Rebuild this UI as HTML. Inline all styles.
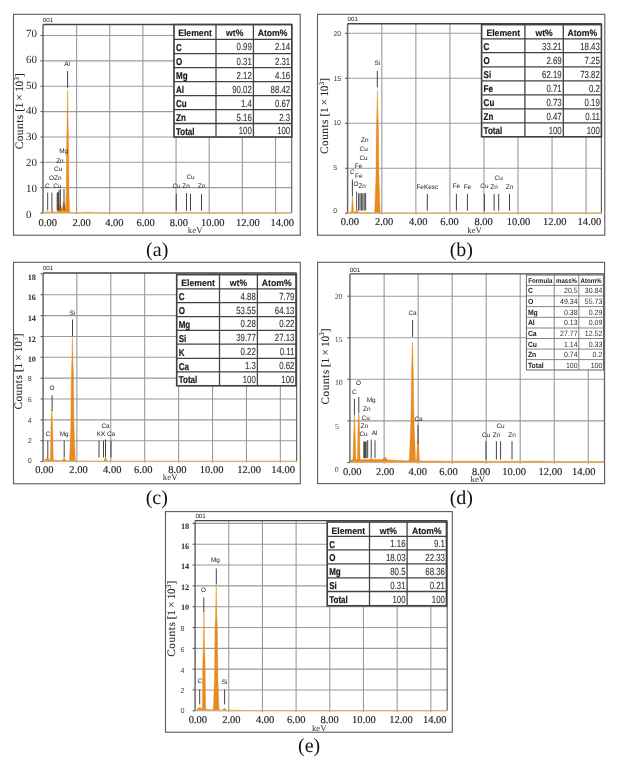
<!DOCTYPE html><html><head><meta charset="utf-8"><style>html,body{margin:0;padding:0;background:#fff;}svg{display:block;filter:blur(0.35px);}</style></head><body><svg width="617" height="764" viewBox="0 0 617 764" text-rendering="geometricPrecision">
<rect x="0" y="0" width="617" height="764" fill="#fff"/>
<rect x="13.50" y="14.30" width="286.70" height="220.90" stroke="#5a5a5a" stroke-width="1.1" fill="none"/>
<line x1="76.60" y1="24.50" x2="76.60" y2="214.30" stroke="#9a9a9a" stroke-width="1.1"/>
<line x1="109.75" y1="24.50" x2="109.75" y2="214.30" stroke="#9a9a9a" stroke-width="1.1"/>
<line x1="142.90" y1="24.50" x2="142.90" y2="214.30" stroke="#9a9a9a" stroke-width="1.1"/>
<line x1="176.05" y1="24.50" x2="176.05" y2="214.30" stroke="#9a9a9a" stroke-width="1.1"/>
<line x1="209.20" y1="24.50" x2="209.20" y2="214.30" stroke="#9a9a9a" stroke-width="1.1"/>
<line x1="242.35" y1="24.50" x2="242.35" y2="214.30" stroke="#9a9a9a" stroke-width="1.1"/>
<line x1="275.50" y1="24.50" x2="275.50" y2="214.30" stroke="#9a9a9a" stroke-width="1.1"/>
<line x1="43.00" y1="187.65" x2="291.70" y2="187.65" stroke="#9a9a9a" stroke-width="1.1"/>
<line x1="40.50" y1="187.65" x2="43.00" y2="187.65" stroke="#444" stroke-width="1.0"/>
<line x1="43.00" y1="162.30" x2="291.70" y2="162.30" stroke="#9a9a9a" stroke-width="1.1"/>
<line x1="40.50" y1="162.30" x2="43.00" y2="162.30" stroke="#444" stroke-width="1.0"/>
<line x1="43.00" y1="136.95" x2="291.70" y2="136.95" stroke="#9a9a9a" stroke-width="1.1"/>
<line x1="40.50" y1="136.95" x2="43.00" y2="136.95" stroke="#444" stroke-width="1.0"/>
<line x1="43.00" y1="111.60" x2="291.70" y2="111.60" stroke="#9a9a9a" stroke-width="1.1"/>
<line x1="40.50" y1="111.60" x2="43.00" y2="111.60" stroke="#444" stroke-width="1.0"/>
<line x1="43.00" y1="86.25" x2="291.70" y2="86.25" stroke="#9a9a9a" stroke-width="1.1"/>
<line x1="40.50" y1="86.25" x2="43.00" y2="86.25" stroke="#444" stroke-width="1.0"/>
<line x1="43.00" y1="60.90" x2="291.70" y2="60.90" stroke="#9a9a9a" stroke-width="1.1"/>
<line x1="40.50" y1="60.90" x2="43.00" y2="60.90" stroke="#444" stroke-width="1.0"/>
<line x1="43.00" y1="35.55" x2="291.70" y2="35.55" stroke="#9a9a9a" stroke-width="1.1"/>
<line x1="40.50" y1="35.55" x2="43.00" y2="35.55" stroke="#444" stroke-width="1.0"/>
<line x1="40.50" y1="213.10" x2="43.00" y2="213.10" stroke="#444" stroke-width="1.0"/>
<path d="M43.5,213.1 L43.5,212.8 L44.2,212.8 L44.9,212.8 L45.6,211.8 L46.2,211.8 L47.0,211.8 L47.7,211.9 L48.4,211.9 L49.1,212.0 L49.8,212.0 L50.5,212.0 L51.2,211.4 L51.9,210.3 L52.6,210.4 L53.2,211.7 L54.0,212.1 L54.6,212.2 L55.4,212.3 L56.0,212.3 L56.8,212.1 L57.5,211.1 L58.1,208.8 L58.2,208.4 L58.3,208.1 L58.4,207.7 L58.5,207.4 L58.6,207.1 L58.8,206.8 L58.8,206.6 L58.9,206.3 L59.0,206.1 L59.1,205.9 L59.2,205.7 L59.3,205.5 L59.4,205.3 L59.5,205.0 L59.6,204.8 L59.7,204.6 L59.8,204.5 L59.9,204.4 L60.0,204.3 L60.1,204.3 L60.2,204.4 L60.3,204.5 L60.4,204.8 L60.5,205.0 L60.6,205.4 L60.7,205.7 L60.8,206.1 L60.9,206.5 L61.0,206.8 L61.1,207.1 L61.2,207.4 L61.3,207.7 L61.4,207.9 L61.5,208.1 L61.6,208.2 L61.7,208.3 L61.8,208.4 L61.9,208.4 L62.0,208.4 L62.1,208.3 L62.2,208.2 L62.3,207.9 L62.4,207.6 L62.5,207.3 L62.6,206.8 L62.7,206.3 L62.8,205.7 L62.9,205.1 L63.0,204.5 L63.1,204.0 L63.2,203.4 L63.3,203.0 L63.4,202.6 L63.5,202.4 L63.6,202.2 L63.7,202.2 L63.8,202.2 L63.9,202.3 L64.0,202.5 L64.1,202.7 L64.2,202.9 L64.3,203.1 L64.4,203.4 L64.5,203.7 L64.6,204.0 L64.7,204.4 L64.8,204.9 L64.9,205.4 L65.0,205.9 L65.1,206.5 L65.2,207.1 L65.3,207.6 L65.4,207.7 L65.5,207.3 L65.6,206.2 L65.7,204.5 L65.8,202.2 L65.9,199.7 L66.0,197.2 L66.1,194.8 L66.2,191.3 L66.3,183.6 L66.4,170.8 L66.5,157.1 L66.6,146.3 L66.7,139.1 L66.8,134.2 L66.9,129.8 L67.0,124.9 L67.1,118.7 L67.2,111.4 L67.3,103.6 L67.4,96.6 L67.5,91.7 L67.6,89.9 L67.7,91.7 L67.8,96.7 L67.9,103.7 L68.0,111.5 L68.1,118.8 L68.2,125.0 L68.3,129.9 L68.4,134.2 L68.5,139.2 L68.6,146.5 L68.7,157.3 L68.8,171.1 L68.9,183.9 L69.0,191.8 L69.1,195.4 L69.2,198.1 L69.3,200.9 L69.4,203.9 L69.5,206.6 L69.6,209.0 L69.7,210.7 L69.8,211.8 L69.9,212.3 L70.0,212.5 L70.1,212.6 L70.2,212.6 L70.3,212.6 L70.4,212.6 L70.5,212.6 L70.6,212.6 L70.7,212.6 L70.8,212.6 L70.9,212.6 L71.0,212.6 L71.1,212.6 L71.2,212.6 L71.3,212.6 L71.4,212.6 L71.5,212.6 L71.6,212.6 L72.3,212.7 L73.0,212.7 L73.7,212.7 L74.4,212.7 L75.1,212.7 L75.8,212.7 L76.5,212.7 L77.2,212.7 L77.9,212.7 L78.6,212.7 L79.3,212.7 L80.0,212.7 L80.7,212.7 L81.4,212.7 L82.1,212.7 L82.8,212.7 L83.5,212.7 L84.2,212.6 L84.9,212.5 L85.6,212.3 L86.3,212.1 L87.0,212.2 L87.7,212.3 L88.4,212.4 L89.1,212.3 L89.8,212.1 L90.5,212.0 L91.2,212.1 L91.9,212.3 L92.6,212.6 L93.3,212.7 L94.0,212.8 L94.7,212.8 L95.4,212.8 L96.1,212.8 L96.8,212.8 L97.5,212.8 L98.2,212.8 L98.9,212.8 L99.6,212.8 L100.3,212.8 L101.0,212.8 L101.7,212.8 L102.4,212.8 L103.1,212.8 L103.8,212.8 L104.5,212.8 L105.2,212.8 L105.9,212.8 L106.6,212.8 L107.3,212.8 L108.0,212.8 L108.7,212.8 L109.4,212.8 L110.1,212.8 L110.8,212.8 L111.5,212.8 L112.2,212.8 L112.9,212.8 L113.6,212.8 L114.3,212.8 L115.0,212.8 L115.7,212.8 L116.4,212.8 L117.1,212.8 L117.8,212.8 L118.5,212.8 L119.2,212.8 L119.9,212.8 L120.6,212.8 L121.3,212.8 L122.0,212.8 L122.7,212.8 L123.4,212.8 L124.1,212.8 L124.8,212.8 L125.5,212.8 L126.2,212.8 L126.9,212.8 L127.6,212.8 L128.3,212.8 L129.0,212.8 L129.7,212.8 L130.4,212.8 L131.1,212.8 L131.8,212.8 L132.5,212.8 L133.2,212.8 L133.9,212.8 L134.6,212.8 L135.3,212.8 L136.0,212.8 L136.7,212.8 L137.4,212.8 L138.1,212.8 L138.8,212.8 L139.5,212.8 L140.2,212.8 L140.9,212.8 L141.6,212.8 L142.3,212.8 L143.0,212.8 L143.7,212.8 L144.4,212.8 L145.1,212.8 L145.8,212.8 L146.5,212.8 L147.2,212.8 L147.9,212.8 L148.6,212.8 L149.3,212.8 L150.0,212.8 L150.7,212.8 L151.4,212.8 L152.1,212.8 L152.8,212.8 L153.5,212.8 L154.2,212.8 L154.9,212.8 L155.6,212.8 L156.3,212.8 L157.0,212.8 L157.7,212.8 L158.4,212.8 L159.1,212.8 L159.8,212.8 L160.5,212.8 L161.2,212.8 L161.9,212.8 L162.6,212.8 L163.3,212.8 L164.0,212.8 L164.7,212.8 L165.4,212.8 L166.1,212.8 L166.8,212.8 L167.5,212.8 L168.2,212.8 L168.9,212.8 L169.6,212.8 L170.3,212.8 L171.0,212.8 L171.7,212.8 L172.4,212.8 L173.1,212.8 L173.8,212.8 L174.5,212.8 L175.2,212.8 L175.9,212.8 L176.6,212.8 L177.3,212.8 L178.0,212.8 L178.7,212.8 L179.4,212.8 L180.1,212.8 L180.8,212.8 L181.5,212.8 L182.2,212.8 L182.9,212.8 L183.6,212.8 L184.3,212.8 L185.0,212.8 L185.7,212.8 L186.4,212.8 L187.1,212.8 L187.8,212.8 L188.5,212.8 L189.2,212.8 L189.9,212.8 L190.6,212.8 L191.3,212.8 L192.0,212.8 L192.7,212.8 L193.4,212.8 L194.1,212.8 L194.8,212.8 L195.5,212.8 L196.2,212.8 L196.9,212.8 L197.6,212.8 L198.3,212.8 L199.0,212.8 L199.7,212.8 L200.4,212.8 L201.1,212.8 L201.8,212.8 L202.5,212.8 L203.2,212.8 L203.9,212.8 L204.6,212.8 L205.3,212.8 L206.0,212.8 L206.7,212.8 L207.4,212.8 L208.1,212.8 L208.8,212.8 L209.5,212.8 L210.2,212.8 L210.9,212.8 L211.6,212.8 L212.3,212.8 L213.0,212.8 L213.7,212.8 L214.4,212.8 L215.1,212.8 L215.8,212.8 L216.5,212.8 L217.2,212.8 L217.9,212.8 L218.6,212.8 L219.3,212.8 L220.0,212.8 L220.7,212.8 L221.4,212.8 L222.1,212.8 L222.8,212.8 L223.5,212.8 L224.2,212.8 L224.9,212.8 L225.6,212.8 L226.3,212.8 L227.0,212.8 L227.7,212.8 L228.4,212.8 L229.1,212.8 L229.8,212.8 L230.5,212.8 L231.2,212.8 L231.9,212.8 L232.6,212.8 L233.3,212.8 L234.0,212.8 L234.7,212.8 L235.4,212.8 L236.1,212.8 L236.8,212.8 L237.5,212.8 L238.2,212.8 L238.9,212.8 L239.6,212.8 L240.3,212.8 L241.0,212.8 L241.7,212.8 L242.4,212.8 L243.1,212.8 L243.8,212.8 L244.5,212.8 L245.2,212.8 L245.9,212.8 L246.6,212.8 L247.3,212.8 L248.0,212.8 L248.7,212.8 L249.4,212.8 L250.1,212.8 L250.8,212.8 L251.5,212.8 L252.2,212.8 L252.9,212.8 L253.6,212.8 L254.3,212.8 L255.0,212.8 L255.7,212.8 L256.4,212.8 L257.1,212.8 L257.8,212.8 L258.5,212.8 L259.2,212.8 L259.9,212.8 L260.6,212.8 L261.3,212.8 L262.0,212.8 L262.7,212.8 L263.4,212.8 L264.1,212.8 L264.8,212.8 L265.5,212.8 L266.2,212.8 L266.9,212.8 L267.6,212.8 L268.3,212.8 L269.0,212.8 L269.7,212.8 L270.4,212.8 L271.1,212.8 L271.8,212.8 L272.5,212.8 L273.2,212.8 L273.9,212.8 L274.6,212.8 L275.3,212.8 L276.0,212.8 L276.7,212.8 L277.4,212.8 L278.1,212.8 L278.8,212.8 L279.5,212.8 L280.2,212.8 L280.9,212.8 L281.6,212.8 L282.3,212.8 L283.0,212.8 L283.7,212.8 L284.4,212.8 L285.1,212.8 L285.8,212.8 L286.5,212.8 L287.2,212.8 L287.9,212.8 L288.6,212.8 L289.3,212.8 L290.0,212.8 L290.7,212.8 L291.4,212.8 L291.4,213.1 Z" fill="#E98A1F" stroke="#E98A1F" stroke-width="0.4"/>
<line x1="47.70" y1="192.60" x2="47.70" y2="210.40" stroke="#444" stroke-width="1.0"/>
<line x1="51.90" y1="192.60" x2="51.90" y2="210.40" stroke="#444" stroke-width="1.0"/>
<line x1="57.20" y1="192.60" x2="57.20" y2="210.40" stroke="#444" stroke-width="1.0"/>
<line x1="57.80" y1="192.60" x2="57.80" y2="210.40" stroke="#444" stroke-width="1.0"/>
<line x1="58.40" y1="192.00" x2="58.40" y2="210.40" stroke="#444" stroke-width="1.0"/>
<line x1="59.00" y1="190.00" x2="59.00" y2="210.40" stroke="#444" stroke-width="1.0"/>
<line x1="60.40" y1="189.00" x2="60.40" y2="210.40" stroke="#444" stroke-width="1.0"/>
<line x1="64.00" y1="189.00" x2="64.00" y2="210.40" stroke="#444" stroke-width="1.0"/>
<line x1="67.60" y1="71.00" x2="67.60" y2="87.80" stroke="#444" stroke-width="1.0"/>
<line x1="176.30" y1="193.80" x2="176.30" y2="210.80" stroke="#444" stroke-width="1.0"/>
<line x1="186.50" y1="193.00" x2="186.50" y2="210.80" stroke="#444" stroke-width="1.0"/>
<line x1="190.50" y1="193.80" x2="190.50" y2="210.80" stroke="#444" stroke-width="1.0"/>
<line x1="201.50" y1="194.00" x2="201.50" y2="210.80" stroke="#444" stroke-width="1.0"/>
<text x="67.20" y="66.00" font-family='"Liberation Sans", sans-serif' font-size="6.4" fill="#222" text-anchor="middle" >Al</text>
<text x="63.70" y="153.40" font-family='"Liberation Sans", sans-serif' font-size="6.4" fill="#222" text-anchor="middle" >Mg</text>
<text x="59.90" y="162.60" font-family='"Liberation Sans", sans-serif' font-size="6.4" fill="#222" text-anchor="middle" >Zn</text>
<text x="58.20" y="171.00" font-family='"Liberation Sans", sans-serif' font-size="6.4" fill="#222" text-anchor="middle" >Cu</text>
<text x="55.30" y="179.50" font-family='"Liberation Sans", sans-serif' font-size="6.4" fill="#222" text-anchor="middle" >OZn</text>
<text x="47.40" y="188.20" font-family='"Liberation Sans", sans-serif' font-size="6.4" fill="#222" text-anchor="middle" >C</text>
<text x="57.30" y="188.20" font-family='"Liberation Sans", sans-serif' font-size="6.4" fill="#222" text-anchor="middle" >Cu</text>
<text x="176.50" y="188.40" font-family='"Liberation Sans", sans-serif' font-size="6.4" fill="#222" text-anchor="middle" >Cu</text>
<text x="186.10" y="188.40" font-family='"Liberation Sans", sans-serif' font-size="6.4" fill="#222" text-anchor="middle" >Zn</text>
<text x="190.50" y="179.40" font-family='"Liberation Sans", sans-serif' font-size="6.4" fill="#222" text-anchor="middle" >Cu</text>
<text x="201.60" y="188.40" font-family='"Liberation Sans", sans-serif' font-size="6.4" fill="#222" text-anchor="middle" >Zn</text>
<line x1="43.00" y1="24.50" x2="291.70" y2="24.50" stroke="#444" stroke-width="1.4"/>
<line x1="43.00" y1="24.50" x2="43.00" y2="213.10" stroke="#6a6a6a" stroke-width="1.5"/>
<line x1="291.70" y1="24.50" x2="291.70" y2="213.10" stroke="#666" stroke-width="1.2"/>
<line x1="43.00" y1="212.90" x2="291.70" y2="212.90" stroke="#cdb47e" stroke-width="1.2"/>
<text x="42.80" y="22.30" font-family='"Liberation Sans", sans-serif' font-size="6.2" fill="#222" text-anchor="start" >001</text>
<text x="25.90" y="217.60" font-family='"Liberation Serif", serif' font-size="11" fill="#2a2a2a" text-anchor="start" >0</text>
<text x="25.90" y="191.81" font-family='"Liberation Serif", serif' font-size="11" fill="#2a2a2a" text-anchor="start" >10</text>
<text x="25.90" y="166.02" font-family='"Liberation Serif", serif' font-size="11" fill="#2a2a2a" text-anchor="start" >20</text>
<text x="25.90" y="140.23" font-family='"Liberation Serif", serif' font-size="11" fill="#2a2a2a" text-anchor="start" >30</text>
<text x="25.90" y="114.44" font-family='"Liberation Serif", serif' font-size="11" fill="#2a2a2a" text-anchor="start" >40</text>
<text x="25.90" y="88.65" font-family='"Liberation Serif", serif' font-size="11" fill="#2a2a2a" text-anchor="start" >50</text>
<text x="25.90" y="62.86" font-family='"Liberation Serif", serif' font-size="11" fill="#2a2a2a" text-anchor="start" >60</text>
<text x="25.90" y="37.07" font-family='"Liberation Serif", serif' font-size="11" fill="#2a2a2a" text-anchor="start" >70</text>
<text x="47.80" y="225.90" font-family='"Liberation Serif", serif' font-size="10.5" fill="#222" text-anchor="middle" stroke="#222" stroke-width="0.15">0.00</text>
<text x="81.60" y="225.90" font-family='"Liberation Serif", serif' font-size="10.5" fill="#222" text-anchor="middle" stroke="#222" stroke-width="0.15">2.00</text>
<text x="114.40" y="225.90" font-family='"Liberation Serif", serif' font-size="10.5" fill="#222" text-anchor="middle" stroke="#222" stroke-width="0.15">4.00</text>
<text x="145.60" y="225.90" font-family='"Liberation Serif", serif' font-size="10.5" fill="#222" text-anchor="middle" stroke="#222" stroke-width="0.15">6.00</text>
<text x="178.90" y="225.90" font-family='"Liberation Serif", serif' font-size="10.5" fill="#222" text-anchor="middle" stroke="#222" stroke-width="0.15">8.00</text>
<text x="212.70" y="225.90" font-family='"Liberation Serif", serif' font-size="10.5" fill="#222" text-anchor="middle" stroke="#222" stroke-width="0.15">10.00</text>
<text x="247.90" y="225.90" font-family='"Liberation Serif", serif' font-size="10.5" fill="#222" text-anchor="middle" stroke="#222" stroke-width="0.15">12.00</text>
<text x="282.30" y="225.90" font-family='"Liberation Serif", serif' font-size="10.5" fill="#222" text-anchor="middle" stroke="#222" stroke-width="0.15">14.00</text>
<text x="195.20" y="233.00" font-family='"Liberation Serif", serif' font-size="8.8" fill="#333" text-anchor="middle" >keV</text>
<text transform="translate(23.40,111.30) rotate(-90)" font-family='"Liberation Serif", serif' font-size="11.3" fill="#222" stroke="#222" stroke-width="0.08" text-anchor="middle"><tspan letter-spacing="0.5">Counts</tspan><tspan letter-spacing="-0.3"> [1 × 10</tspan><tspan font-size="7" dx="0.6" dy="-4.3">3</tspan><tspan dy="4.3">]</tspan></text>
<rect x="174" y="24.6" width="117.80000000000001" height="112.4" fill="#fff"/>
<line x1="216.00" y1="24.60" x2="216.00" y2="137.00" stroke="#424242" stroke-width="1.3"/>
<line x1="253.40" y1="24.60" x2="253.40" y2="137.00" stroke="#424242" stroke-width="1.3"/>
<line x1="174.00" y1="39.40" x2="291.80" y2="39.40" stroke="#424242" stroke-width="1.3"/>
<line x1="174.00" y1="53.60" x2="291.80" y2="53.60" stroke="#424242" stroke-width="1.3"/>
<line x1="174.00" y1="67.70" x2="291.80" y2="67.70" stroke="#424242" stroke-width="1.3"/>
<line x1="174.00" y1="81.70" x2="291.80" y2="81.70" stroke="#424242" stroke-width="1.3"/>
<line x1="174.00" y1="95.70" x2="291.80" y2="95.70" stroke="#424242" stroke-width="1.3"/>
<line x1="174.00" y1="109.70" x2="291.80" y2="109.70" stroke="#424242" stroke-width="1.3"/>
<line x1="174.00" y1="123.50" x2="291.80" y2="123.50" stroke="#424242" stroke-width="1.3"/>
<rect x="174.00" y="24.60" width="117.80" height="112.40" stroke="#404040" stroke-width="1.65" fill="none"/>
<text transform="translate(195.00,36.41) scale(0.94,1)" font-family='"Liberation Sans", sans-serif' font-size="9.2" fill="#1a1a1a" font-weight="bold" text-anchor="middle" stroke="#1a1a1a" stroke-width="0.15">Element</text>
<text transform="translate(234.70,36.41) scale(0.94,1)" font-family='"Liberation Sans", sans-serif' font-size="9.2" fill="#1a1a1a" font-weight="bold" text-anchor="middle" stroke="#1a1a1a" stroke-width="0.15">wt%</text>
<text transform="translate(272.60,36.41) scale(0.94,1)" font-family='"Liberation Sans", sans-serif' font-size="9.2" fill="#1a1a1a" font-weight="bold" text-anchor="middle" stroke="#1a1a1a" stroke-width="0.15">Atom%</text>
<text transform="translate(176.00,51.00) scale(0.8,1)" font-family='"Liberation Sans", sans-serif' font-size="10" fill="#1a1a1a" font-weight="bold" text-anchor="start" stroke="#1a1a1a" stroke-width="0.22">C</text>
<text transform="translate(251.80,50.46) scale(0.76,1)" font-family='"Liberation Sans", sans-serif' font-size="10.3" fill="#333" text-anchor="end" stroke="#333" stroke-width="0.12">0.99</text>
<text transform="translate(290.20,50.46) scale(0.76,1)" font-family='"Liberation Sans", sans-serif' font-size="10.3" fill="#333" text-anchor="end" stroke="#333" stroke-width="0.12">2.14</text>
<text transform="translate(176.00,65.15) scale(0.8,1)" font-family='"Liberation Sans", sans-serif' font-size="10" fill="#1a1a1a" font-weight="bold" text-anchor="start" stroke="#1a1a1a" stroke-width="0.22">O</text>
<text transform="translate(251.80,64.61) scale(0.76,1)" font-family='"Liberation Sans", sans-serif' font-size="10.3" fill="#333" text-anchor="end" stroke="#333" stroke-width="0.12">0.31</text>
<text transform="translate(290.20,64.61) scale(0.76,1)" font-family='"Liberation Sans", sans-serif' font-size="10.3" fill="#333" text-anchor="end" stroke="#333" stroke-width="0.12">2.31</text>
<text transform="translate(176.00,79.20) scale(0.8,1)" font-family='"Liberation Sans", sans-serif' font-size="10" fill="#1a1a1a" font-weight="bold" text-anchor="start" stroke="#1a1a1a" stroke-width="0.22">Mg</text>
<text transform="translate(251.80,78.66) scale(0.76,1)" font-family='"Liberation Sans", sans-serif' font-size="10.3" fill="#333" text-anchor="end" stroke="#333" stroke-width="0.12">2.12</text>
<text transform="translate(290.20,78.66) scale(0.76,1)" font-family='"Liberation Sans", sans-serif' font-size="10.3" fill="#333" text-anchor="end" stroke="#333" stroke-width="0.12">4.16</text>
<text transform="translate(176.00,93.20) scale(0.8,1)" font-family='"Liberation Sans", sans-serif' font-size="10" fill="#1a1a1a" font-weight="bold" text-anchor="start" stroke="#1a1a1a" stroke-width="0.22">Al</text>
<text transform="translate(251.80,92.66) scale(0.76,1)" font-family='"Liberation Sans", sans-serif' font-size="10.3" fill="#333" text-anchor="end" stroke="#333" stroke-width="0.12">90.02</text>
<text transform="translate(290.20,92.66) scale(0.76,1)" font-family='"Liberation Sans", sans-serif' font-size="10.3" fill="#333" text-anchor="end" stroke="#333" stroke-width="0.12">88.42</text>
<text transform="translate(176.00,107.20) scale(0.8,1)" font-family='"Liberation Sans", sans-serif' font-size="10" fill="#1a1a1a" font-weight="bold" text-anchor="start" stroke="#1a1a1a" stroke-width="0.22">Cu</text>
<text transform="translate(251.80,106.66) scale(0.76,1)" font-family='"Liberation Sans", sans-serif' font-size="10.3" fill="#333" text-anchor="end" stroke="#333" stroke-width="0.12">1.4</text>
<text transform="translate(290.20,106.66) scale(0.76,1)" font-family='"Liberation Sans", sans-serif' font-size="10.3" fill="#333" text-anchor="end" stroke="#333" stroke-width="0.12">0.67</text>
<text transform="translate(176.00,121.10) scale(0.8,1)" font-family='"Liberation Sans", sans-serif' font-size="10" fill="#1a1a1a" font-weight="bold" text-anchor="start" stroke="#1a1a1a" stroke-width="0.22">Zn</text>
<text transform="translate(251.80,120.56) scale(0.76,1)" font-family='"Liberation Sans", sans-serif' font-size="10.3" fill="#333" text-anchor="end" stroke="#333" stroke-width="0.12">5.16</text>
<text transform="translate(290.20,120.56) scale(0.76,1)" font-family='"Liberation Sans", sans-serif' font-size="10.3" fill="#333" text-anchor="end" stroke="#333" stroke-width="0.12">2.3</text>
<text transform="translate(176.00,134.75) scale(0.8,1)" font-family='"Liberation Sans", sans-serif' font-size="10" fill="#1a1a1a" font-weight="bold" text-anchor="start" stroke="#1a1a1a" stroke-width="0.22">Total</text>
<text transform="translate(251.80,134.21) scale(0.76,1)" font-family='"Liberation Sans", sans-serif' font-size="10.3" fill="#333" text-anchor="end" stroke="#333" stroke-width="0.12">100</text>
<text transform="translate(290.20,134.21) scale(0.76,1)" font-family='"Liberation Sans", sans-serif' font-size="10.3" fill="#333" text-anchor="end" stroke="#333" stroke-width="0.12">100</text>
<text x="157.20" y="255.50" font-family='"Liberation Serif", serif' font-size="20" fill="#111" text-anchor="middle" >(a)</text>
<rect x="317.50" y="14.30" width="287.30" height="220.90" stroke="#5a5a5a" stroke-width="1.1" fill="none"/>
<line x1="381.84" y1="23.80" x2="381.84" y2="214.50" stroke="#9a9a9a" stroke-width="1.1"/>
<line x1="415.88" y1="23.80" x2="415.88" y2="214.50" stroke="#9a9a9a" stroke-width="1.1"/>
<line x1="449.92" y1="23.80" x2="449.92" y2="214.50" stroke="#9a9a9a" stroke-width="1.1"/>
<line x1="483.96" y1="23.80" x2="483.96" y2="214.50" stroke="#9a9a9a" stroke-width="1.1"/>
<line x1="518.00" y1="23.80" x2="518.00" y2="214.50" stroke="#9a9a9a" stroke-width="1.1"/>
<line x1="552.04" y1="23.80" x2="552.04" y2="214.50" stroke="#9a9a9a" stroke-width="1.1"/>
<line x1="586.08" y1="23.80" x2="586.08" y2="214.50" stroke="#9a9a9a" stroke-width="1.1"/>
<line x1="347.60" y1="168.30" x2="601.40" y2="168.30" stroke="#9a9a9a" stroke-width="1.1"/>
<line x1="345.10" y1="168.30" x2="347.60" y2="168.30" stroke="#444" stroke-width="1.0"/>
<line x1="347.60" y1="123.30" x2="601.40" y2="123.30" stroke="#9a9a9a" stroke-width="1.1"/>
<line x1="345.10" y1="123.30" x2="347.60" y2="123.30" stroke="#444" stroke-width="1.0"/>
<line x1="347.60" y1="78.30" x2="601.40" y2="78.30" stroke="#9a9a9a" stroke-width="1.1"/>
<line x1="345.10" y1="78.30" x2="347.60" y2="78.30" stroke="#444" stroke-width="1.0"/>
<line x1="347.60" y1="33.30" x2="601.40" y2="33.30" stroke="#9a9a9a" stroke-width="1.1"/>
<line x1="345.10" y1="33.30" x2="347.60" y2="33.30" stroke="#444" stroke-width="1.0"/>
<line x1="345.10" y1="213.30" x2="347.60" y2="213.30" stroke="#444" stroke-width="1.0"/>
<path d="M347.8,213.3 L347.8,213.0 L348.5,213.0 L349.2,213.0 L349.3,213.0 L349.4,213.0 L349.5,213.0 L349.6,211.9 L349.7,211.9 L349.8,211.9 L349.9,211.9 L350.0,211.9 L350.1,211.9 L350.2,211.9 L350.3,211.9 L350.4,211.9 L350.5,211.9 L350.6,211.9 L350.7,211.9 L350.8,212.0 L350.9,212.0 L351.0,212.0 L351.1,211.9 L351.2,211.9 L351.3,211.7 L351.4,211.4 L351.5,210.8 L351.6,209.9 L351.7,208.6 L351.8,207.1 L351.9,205.3 L352.0,203.4 L352.1,201.5 L352.2,199.7 L352.3,198.2 L352.4,197.2 L352.5,196.8 L352.6,197.0 L352.7,197.9 L352.8,199.3 L352.9,201.0 L353.0,202.9 L353.1,204.8 L353.2,206.7 L353.3,208.3 L353.4,209.6 L353.5,210.7 L353.6,211.3 L353.7,211.8 L353.8,212.0 L353.9,212.1 L354.0,212.1 L354.1,212.1 L354.2,212.1 L354.3,212.1 L354.4,212.1 L354.5,212.1 L354.6,212.1 L354.7,212.1 L354.8,212.1 L354.9,212.1 L355.0,212.1 L355.1,212.0 L355.2,212.0 L355.3,211.9 L355.4,211.8 L355.5,211.7 L355.6,211.5 L355.7,211.4 L355.8,211.2 L355.9,210.9 L356.0,210.7 L356.1,210.5 L356.2,210.2 L356.3,210.0 L356.4,209.8 L356.5,209.7 L356.6,209.6 L357.3,210.4 L358.0,211.8 L358.7,212.3 L359.4,212.4 L360.1,212.4 L360.8,212.4 L361.5,212.4 L362.2,212.5 L362.9,212.5 L363.6,212.5 L364.3,212.5 L365.0,212.5 L365.7,212.6 L366.4,212.6 L367.1,212.6 L367.8,212.6 L368.5,212.6 L369.2,212.6 L369.9,212.7 L370.6,212.7 L371.3,212.7 L372.0,212.7 L372.7,212.7 L373.4,212.7 L374.1,212.7 L374.2,212.7 L374.3,212.7 L374.4,212.5 L374.5,212.2 L374.6,211.5 L374.7,210.4 L374.8,208.7 L374.9,206.4 L375.0,203.6 L375.1,200.3 L375.2,197.0 L375.3,193.6 L375.4,190.4 L375.5,187.6 L375.6,185.2 L375.7,183.2 L375.8,180.8 L375.9,176.0 L376.0,166.7 L376.1,154.4 L376.2,142.6 L376.3,133.7 L376.4,127.8 L376.5,124.2 L376.6,121.5 L376.7,119.0 L376.8,115.8 L376.9,111.6 L377.0,106.5 L377.1,101.0 L377.2,95.9 L377.3,92.1 L377.4,90.4 L377.5,91.3 L377.6,94.6 L377.7,99.4 L377.8,104.9 L377.9,110.2 L378.0,114.7 L378.1,118.1 L378.2,120.8 L378.3,123.4 L378.4,126.6 L378.5,131.7 L378.6,139.7 L378.7,150.8 L378.8,163.3 L378.9,173.8 L379.0,179.8 L379.1,182.6 L379.2,184.6 L379.3,186.9 L379.4,189.6 L379.5,192.7 L379.6,196.0 L379.7,199.4 L379.8,202.7 L379.9,205.7 L380.0,208.2 L380.1,210.1 L380.2,211.3 L380.3,212.1 L380.4,212.6 L380.5,212.7 L380.6,212.8 L380.7,212.8 L380.8,212.9 L380.9,212.9 L381.0,212.9 L381.1,212.9 L381.2,212.9 L381.3,212.9 L381.4,212.9 L381.5,212.9 L382.2,212.9 L382.9,212.9 L383.6,212.9 L384.3,212.9 L385.0,212.9 L385.7,212.9 L386.4,212.9 L387.1,212.9 L387.8,212.9 L388.5,212.9 L389.2,212.9 L389.9,212.9 L390.6,213.0 L391.3,213.0 L392.0,213.0 L392.7,213.0 L393.4,213.0 L394.1,213.0 L394.8,213.0 L395.5,213.0 L396.2,213.0 L396.9,213.0 L397.6,213.0 L398.3,213.0 L399.0,213.0 L399.7,213.0 L400.4,213.0 L401.1,213.0 L401.8,213.0 L402.5,213.0 L403.2,213.0 L403.9,213.0 L404.6,213.0 L405.3,213.0 L406.0,213.0 L406.7,213.0 L407.4,213.0 L408.1,213.0 L408.8,213.0 L409.5,213.0 L410.2,213.0 L410.9,213.0 L411.6,213.0 L412.3,213.0 L413.0,213.0 L413.7,213.0 L414.4,213.0 L415.1,213.0 L415.8,213.0 L416.5,213.0 L417.2,213.0 L417.9,213.0 L418.6,213.0 L419.3,213.0 L420.0,213.0 L420.7,213.0 L421.4,213.0 L422.1,213.0 L422.8,213.0 L423.5,213.0 L424.2,213.0 L424.9,213.0 L425.6,213.0 L426.3,213.0 L427.0,213.0 L427.7,213.0 L428.4,213.0 L429.1,213.0 L429.8,213.0 L430.5,213.0 L431.2,213.0 L431.9,213.0 L432.6,213.0 L433.3,213.0 L434.0,213.0 L434.7,213.0 L435.4,213.0 L436.1,213.0 L436.8,213.0 L437.5,213.0 L438.2,213.0 L438.9,213.0 L439.6,213.0 L440.3,213.0 L441.0,213.0 L441.7,213.0 L442.4,213.0 L443.1,213.0 L443.8,213.0 L444.5,213.0 L445.2,213.0 L445.9,213.0 L446.6,213.0 L447.3,213.0 L448.0,213.0 L448.7,213.0 L449.4,213.0 L450.1,213.0 L450.8,213.0 L451.5,213.0 L452.2,213.0 L452.9,213.0 L453.6,213.0 L454.3,213.0 L455.0,212.9 L455.7,212.6 L456.4,212.3 L457.1,212.3 L457.8,212.6 L458.5,212.9 L459.2,213.0 L459.9,213.0 L460.6,213.0 L461.3,213.0 L462.0,213.0 L462.7,213.0 L463.4,213.0 L464.1,213.0 L464.8,213.0 L465.5,213.0 L466.2,213.0 L466.9,213.0 L467.6,213.0 L468.3,213.0 L469.0,213.0 L469.7,213.0 L470.4,213.0 L471.1,213.0 L471.8,213.0 L472.5,213.0 L473.2,213.0 L473.9,213.0 L474.6,213.0 L475.3,213.0 L476.0,213.0 L476.7,213.0 L477.4,213.0 L478.1,213.0 L478.8,213.0 L479.5,213.0 L480.2,213.0 L480.9,213.0 L481.6,213.0 L482.3,213.0 L483.0,213.0 L483.7,213.0 L484.4,213.0 L485.1,213.0 L485.8,213.0 L486.5,213.0 L487.2,213.0 L487.9,213.0 L488.6,213.0 L489.3,213.0 L490.0,213.0 L490.7,213.0 L491.4,213.0 L492.1,213.0 L492.8,213.0 L493.5,213.0 L494.2,213.0 L494.9,213.0 L495.6,213.0 L496.3,213.0 L497.0,213.0 L497.7,213.0 L498.4,213.0 L499.1,213.0 L499.8,213.0 L500.5,213.0 L501.2,213.0 L501.9,213.0 L502.6,213.0 L503.3,213.0 L504.0,213.0 L504.7,213.0 L505.4,213.0 L506.1,213.0 L506.8,213.0 L507.5,213.0 L508.2,213.0 L508.9,213.0 L509.6,213.0 L510.3,213.0 L511.0,213.0 L511.7,213.0 L512.4,213.0 L513.1,213.0 L513.8,213.0 L514.5,213.0 L515.2,213.0 L515.9,213.0 L516.6,213.0 L517.3,213.0 L518.0,213.0 L518.7,213.0 L519.4,213.0 L520.1,213.0 L520.8,213.0 L521.5,213.0 L522.2,213.0 L522.9,213.0 L523.6,213.0 L524.3,213.0 L525.0,213.0 L525.7,213.0 L526.4,213.0 L527.1,213.0 L527.8,213.0 L528.5,213.0 L529.2,213.0 L529.9,213.0 L530.6,213.0 L531.3,213.0 L532.0,213.0 L532.7,213.0 L533.4,213.0 L534.1,213.0 L534.8,213.0 L535.5,213.0 L536.2,213.0 L536.9,213.0 L537.6,213.0 L538.3,213.0 L539.0,213.0 L539.7,213.0 L540.4,213.0 L541.1,213.0 L541.8,213.0 L542.5,213.0 L543.2,213.0 L543.9,213.0 L544.6,213.0 L545.3,213.0 L546.0,213.0 L546.7,213.0 L547.4,213.0 L548.1,213.0 L548.8,213.0 L549.5,213.0 L550.2,213.0 L550.9,213.0 L551.6,213.0 L552.3,213.0 L553.0,213.0 L553.7,213.0 L554.4,213.0 L555.1,213.0 L555.8,213.0 L556.5,213.0 L557.2,213.0 L557.9,213.0 L558.6,213.0 L559.3,213.0 L560.0,213.0 L560.7,213.0 L561.4,213.0 L562.1,213.0 L562.8,213.0 L563.5,213.0 L564.2,213.0 L564.9,213.0 L565.6,213.0 L566.3,213.0 L567.0,213.0 L567.7,213.0 L568.4,213.0 L569.1,213.0 L569.8,213.0 L570.5,213.0 L571.2,213.0 L571.9,213.0 L572.6,213.0 L573.3,213.0 L574.0,213.0 L574.7,213.0 L575.4,213.0 L576.1,213.0 L576.8,213.0 L577.5,213.0 L578.2,213.0 L578.9,213.0 L579.6,213.0 L580.3,213.0 L581.0,213.0 L581.7,213.0 L582.4,213.0 L583.1,213.0 L583.8,213.0 L584.5,213.0 L585.2,213.0 L585.9,213.0 L586.6,213.0 L587.3,213.0 L588.0,213.0 L588.7,213.0 L589.4,213.0 L590.1,213.0 L590.8,213.0 L591.5,213.0 L592.2,213.0 L592.9,213.0 L593.6,213.0 L594.3,213.0 L595.0,213.0 L595.7,213.0 L596.4,213.0 L597.1,213.0 L597.8,213.0 L598.5,213.0 L599.2,213.0 L599.9,213.0 L600.6,213.0 L601.3,213.0 L601.3,213.3 Z" fill="#E98A1F" stroke="#E98A1F" stroke-width="0.4"/>
<line x1="352.40" y1="179.50" x2="352.40" y2="196.40" stroke="#444" stroke-width="1.0"/>
<line x1="356.60" y1="191.60" x2="356.60" y2="210.20" stroke="#444" stroke-width="0.9"/>
<line x1="358.60" y1="193.20" x2="358.60" y2="210.50" stroke="#444" stroke-width="1.0"/>
<line x1="360.00" y1="193.20" x2="360.00" y2="210.50" stroke="#444" stroke-width="1.0"/>
<line x1="361.40" y1="193.20" x2="361.40" y2="210.50" stroke="#444" stroke-width="1.0"/>
<line x1="362.80" y1="193.20" x2="362.80" y2="210.50" stroke="#444" stroke-width="1.0"/>
<line x1="364.20" y1="193.20" x2="364.20" y2="210.50" stroke="#444" stroke-width="1.0"/>
<line x1="365.60" y1="193.20" x2="365.60" y2="210.50" stroke="#444" stroke-width="1.0"/>
<line x1="377.30" y1="70.90" x2="377.30" y2="87.40" stroke="#444" stroke-width="1.0"/>
<line x1="427.30" y1="193.80" x2="427.30" y2="210.80" stroke="#444" stroke-width="1.0"/>
<line x1="456.40" y1="193.80" x2="456.40" y2="210.80" stroke="#444" stroke-width="1.0"/>
<line x1="467.40" y1="193.80" x2="467.40" y2="210.80" stroke="#444" stroke-width="1.0"/>
<line x1="484.40" y1="193.80" x2="484.40" y2="210.80" stroke="#444" stroke-width="1.0"/>
<line x1="494.10" y1="193.80" x2="494.10" y2="210.80" stroke="#444" stroke-width="1.0"/>
<line x1="498.70" y1="193.80" x2="498.70" y2="210.80" stroke="#444" stroke-width="1.0"/>
<line x1="509.50" y1="193.80" x2="509.50" y2="210.80" stroke="#444" stroke-width="1.0"/>
<text x="377.30" y="65.40" font-family='"Liberation Sans", sans-serif' font-size="6.4" fill="#222" text-anchor="middle" >Si</text>
<text x="364.80" y="142.30" font-family='"Liberation Sans", sans-serif' font-size="6.4" fill="#222" text-anchor="middle" >Zn</text>
<text x="363.70" y="151.20" font-family='"Liberation Sans", sans-serif' font-size="6.4" fill="#222" text-anchor="middle" >Cu</text>
<text x="363.50" y="159.90" font-family='"Liberation Sans", sans-serif' font-size="6.4" fill="#222" text-anchor="middle" >Cu</text>
<text x="358.60" y="167.60" font-family='"Liberation Sans", sans-serif' font-size="6.4" fill="#222" text-anchor="middle" >Fe</text>
<text x="352.30" y="173.50" font-family='"Liberation Sans", sans-serif' font-size="6.4" fill="#222" text-anchor="middle" >C</text>
<text x="358.80" y="178.00" font-family='"Liberation Sans", sans-serif' font-size="6.4" fill="#222" text-anchor="middle" >Fe</text>
<text x="356.00" y="185.60" font-family='"Liberation Sans", sans-serif' font-size="6.4" fill="#222" text-anchor="middle" >O</text>
<text x="362.20" y="188.00" font-family='"Liberation Sans", sans-serif' font-size="6.4" fill="#222" text-anchor="middle" >Zn</text>
<text x="427.30" y="188.70" font-family='"Liberation Sans", sans-serif' font-size="6.4" fill="#222" text-anchor="middle" >FeKesc</text>
<text x="456.40" y="188.20" font-family='"Liberation Sans", sans-serif' font-size="6.4" fill="#222" text-anchor="middle" >Fe</text>
<text x="467.40" y="188.70" font-family='"Liberation Sans", sans-serif' font-size="6.4" fill="#222" text-anchor="middle" >Fe</text>
<text x="484.40" y="188.20" font-family='"Liberation Sans", sans-serif' font-size="6.4" fill="#222" text-anchor="middle" >Cu</text>
<text x="494.10" y="189.20" font-family='"Liberation Sans", sans-serif' font-size="6.4" fill="#222" text-anchor="middle" >Zn</text>
<text x="498.70" y="179.90" font-family='"Liberation Sans", sans-serif' font-size="6.4" fill="#222" text-anchor="middle" >Cu</text>
<text x="509.50" y="189.20" font-family='"Liberation Sans", sans-serif' font-size="6.4" fill="#222" text-anchor="middle" >Zn</text>
<line x1="347.60" y1="23.80" x2="601.40" y2="23.80" stroke="#444" stroke-width="1.4"/>
<line x1="347.60" y1="23.80" x2="347.60" y2="213.30" stroke="#6a6a6a" stroke-width="1.5"/>
<line x1="601.40" y1="23.80" x2="601.40" y2="213.30" stroke="#666" stroke-width="1.2"/>
<line x1="347.60" y1="213.10" x2="601.40" y2="213.10" stroke="#cdb47e" stroke-width="1.2"/>
<text x="347.50" y="21.20" font-family='"Liberation Sans", sans-serif' font-size="6.2" fill="#222" text-anchor="start" >001</text>
<text x="333.20" y="213.10" font-family='"Liberation Sans", sans-serif' font-size="7" fill="#444" text-anchor="start" >0</text>
<text x="333.20" y="169.80" font-family='"Liberation Sans", sans-serif' font-size="7" fill="#444" text-anchor="start" >5</text>
<text x="333.20" y="125.20" font-family='"Liberation Sans", sans-serif' font-size="7" fill="#444" text-anchor="start" >10</text>
<text x="333.40" y="80.60" font-family='"Liberation Sans", sans-serif' font-size="7" fill="#444" text-anchor="start" >15</text>
<text x="333.40" y="36.20" font-family='"Liberation Sans", sans-serif' font-size="7" fill="#444" text-anchor="start" >20</text>
<text x="349.90" y="225.10" font-family='"Liberation Serif", serif' font-size="10.5" fill="#222" text-anchor="middle" stroke="#222" stroke-width="0.15">0.00</text>
<text x="384.10" y="225.10" font-family='"Liberation Serif", serif' font-size="10.5" fill="#222" text-anchor="middle" stroke="#222" stroke-width="0.15">2.00</text>
<text x="418.20" y="225.10" font-family='"Liberation Serif", serif' font-size="10.5" fill="#222" text-anchor="middle" stroke="#222" stroke-width="0.15">4.00</text>
<text x="449.50" y="225.10" font-family='"Liberation Serif", serif' font-size="10.5" fill="#222" text-anchor="middle" stroke="#222" stroke-width="0.15">6.00</text>
<text x="483.60" y="225.10" font-family='"Liberation Serif", serif' font-size="10.5" fill="#222" text-anchor="middle" stroke="#222" stroke-width="0.15">8.00</text>
<text x="518.50" y="225.10" font-family='"Liberation Serif", serif' font-size="10.5" fill="#222" text-anchor="middle" stroke="#222" stroke-width="0.15">10.00</text>
<text x="554.70" y="225.10" font-family='"Liberation Serif", serif' font-size="10.5" fill="#222" text-anchor="middle" stroke="#222" stroke-width="0.15">12.00</text>
<text x="589.40" y="225.10" font-family='"Liberation Serif", serif' font-size="10.5" fill="#222" text-anchor="middle" stroke="#222" stroke-width="0.15">14.00</text>
<text x="474.60" y="233.20" font-family='"Liberation Serif", serif' font-size="8.8" fill="#333" text-anchor="middle" >keV</text>
<text transform="translate(328.10,116.00) rotate(-90)" font-family='"Liberation Serif", serif' font-size="11.3" fill="#222" stroke="#222" stroke-width="0.08" text-anchor="middle"><tspan letter-spacing="0.5">Counts</tspan><tspan letter-spacing="-0.3"> [1 × 10</tspan><tspan font-size="7" dx="0.6" dy="-4.3">3</tspan><tspan dy="4.3">]</tspan></text>
<rect x="481.6" y="24.6" width="119.79999999999995" height="112.20000000000002" fill="#fff"/>
<line x1="524.90" y1="24.60" x2="524.90" y2="136.80" stroke="#424242" stroke-width="1.3"/>
<line x1="563.30" y1="24.60" x2="563.30" y2="136.80" stroke="#424242" stroke-width="1.3"/>
<line x1="481.60" y1="38.90" x2="601.40" y2="38.90" stroke="#424242" stroke-width="1.3"/>
<line x1="481.60" y1="52.60" x2="601.40" y2="52.60" stroke="#424242" stroke-width="1.3"/>
<line x1="481.60" y1="66.90" x2="601.40" y2="66.90" stroke="#424242" stroke-width="1.3"/>
<line x1="481.60" y1="80.90" x2="601.40" y2="80.90" stroke="#424242" stroke-width="1.3"/>
<line x1="481.60" y1="94.90" x2="601.40" y2="94.90" stroke="#424242" stroke-width="1.3"/>
<line x1="481.60" y1="108.90" x2="601.40" y2="108.90" stroke="#424242" stroke-width="1.3"/>
<line x1="481.60" y1="122.90" x2="601.40" y2="122.90" stroke="#424242" stroke-width="1.3"/>
<rect x="481.60" y="24.60" width="119.80" height="112.20" stroke="#404040" stroke-width="1.65" fill="none"/>
<text transform="translate(503.25,36.16) scale(0.94,1)" font-family='"Liberation Sans", sans-serif' font-size="9.2" fill="#1a1a1a" font-weight="bold" text-anchor="middle" stroke="#1a1a1a" stroke-width="0.15">Element</text>
<text transform="translate(544.10,36.16) scale(0.94,1)" font-family='"Liberation Sans", sans-serif' font-size="9.2" fill="#1a1a1a" font-weight="bold" text-anchor="middle" stroke="#1a1a1a" stroke-width="0.15">wt%</text>
<text transform="translate(582.35,36.16) scale(0.94,1)" font-family='"Liberation Sans", sans-serif' font-size="9.2" fill="#1a1a1a" font-weight="bold" text-anchor="middle" stroke="#1a1a1a" stroke-width="0.15">Atom%</text>
<text transform="translate(483.60,50.25) scale(0.8,1)" font-family='"Liberation Sans", sans-serif' font-size="10" fill="#1a1a1a" font-weight="bold" text-anchor="start" stroke="#1a1a1a" stroke-width="0.22">C</text>
<text transform="translate(561.70,49.71) scale(0.76,1)" font-family='"Liberation Sans", sans-serif' font-size="10.3" fill="#333" text-anchor="end" stroke="#333" stroke-width="0.12">33.21</text>
<text transform="translate(599.80,49.71) scale(0.76,1)" font-family='"Liberation Sans", sans-serif' font-size="10.3" fill="#333" text-anchor="end" stroke="#333" stroke-width="0.12">18.43</text>
<text transform="translate(483.60,64.25) scale(0.8,1)" font-family='"Liberation Sans", sans-serif' font-size="10" fill="#1a1a1a" font-weight="bold" text-anchor="start" stroke="#1a1a1a" stroke-width="0.22">O</text>
<text transform="translate(561.70,63.71) scale(0.76,1)" font-family='"Liberation Sans", sans-serif' font-size="10.3" fill="#333" text-anchor="end" stroke="#333" stroke-width="0.12">2.69</text>
<text transform="translate(599.80,63.71) scale(0.76,1)" font-family='"Liberation Sans", sans-serif' font-size="10.3" fill="#333" text-anchor="end" stroke="#333" stroke-width="0.12">7.25</text>
<text transform="translate(483.60,78.40) scale(0.8,1)" font-family='"Liberation Sans", sans-serif' font-size="10" fill="#1a1a1a" font-weight="bold" text-anchor="start" stroke="#1a1a1a" stroke-width="0.22">Si</text>
<text transform="translate(561.70,77.86) scale(0.76,1)" font-family='"Liberation Sans", sans-serif' font-size="10.3" fill="#333" text-anchor="end" stroke="#333" stroke-width="0.12">62.19</text>
<text transform="translate(599.80,77.86) scale(0.76,1)" font-family='"Liberation Sans", sans-serif' font-size="10.3" fill="#333" text-anchor="end" stroke="#333" stroke-width="0.12">73.82</text>
<text transform="translate(483.60,92.40) scale(0.8,1)" font-family='"Liberation Sans", sans-serif' font-size="10" fill="#1a1a1a" font-weight="bold" text-anchor="start" stroke="#1a1a1a" stroke-width="0.22">Fe</text>
<text transform="translate(561.70,91.86) scale(0.76,1)" font-family='"Liberation Sans", sans-serif' font-size="10.3" fill="#333" text-anchor="end" stroke="#333" stroke-width="0.12">0.71</text>
<text transform="translate(599.80,91.86) scale(0.76,1)" font-family='"Liberation Sans", sans-serif' font-size="10.3" fill="#333" text-anchor="end" stroke="#333" stroke-width="0.12">0.2</text>
<text transform="translate(483.60,106.40) scale(0.8,1)" font-family='"Liberation Sans", sans-serif' font-size="10" fill="#1a1a1a" font-weight="bold" text-anchor="start" stroke="#1a1a1a" stroke-width="0.22">Cu</text>
<text transform="translate(561.70,105.86) scale(0.76,1)" font-family='"Liberation Sans", sans-serif' font-size="10.3" fill="#333" text-anchor="end" stroke="#333" stroke-width="0.12">0.73</text>
<text transform="translate(599.80,105.86) scale(0.76,1)" font-family='"Liberation Sans", sans-serif' font-size="10.3" fill="#333" text-anchor="end" stroke="#333" stroke-width="0.12">0.19</text>
<text transform="translate(483.60,120.40) scale(0.8,1)" font-family='"Liberation Sans", sans-serif' font-size="10" fill="#1a1a1a" font-weight="bold" text-anchor="start" stroke="#1a1a1a" stroke-width="0.22">Zn</text>
<text transform="translate(561.70,119.86) scale(0.76,1)" font-family='"Liberation Sans", sans-serif' font-size="10.3" fill="#333" text-anchor="end" stroke="#333" stroke-width="0.12">0.47</text>
<text transform="translate(599.80,119.86) scale(0.76,1)" font-family='"Liberation Sans", sans-serif' font-size="10.3" fill="#333" text-anchor="end" stroke="#333" stroke-width="0.12">0.11</text>
<text transform="translate(483.60,134.35) scale(0.8,1)" font-family='"Liberation Sans", sans-serif' font-size="10" fill="#1a1a1a" font-weight="bold" text-anchor="start" stroke="#1a1a1a" stroke-width="0.22">Total</text>
<text transform="translate(561.70,133.81) scale(0.76,1)" font-family='"Liberation Sans", sans-serif' font-size="10.3" fill="#333" text-anchor="end" stroke="#333" stroke-width="0.12">100</text>
<text transform="translate(599.80,133.81) scale(0.76,1)" font-family='"Liberation Sans", sans-serif' font-size="10.3" fill="#333" text-anchor="end" stroke="#333" stroke-width="0.12">100</text>
<text x="461.30" y="255.90" font-family='"Liberation Serif", serif' font-size="20" fill="#111" text-anchor="middle" >(b)</text>
<rect x="13.50" y="262.30" width="286.80" height="221.50" stroke="#5a5a5a" stroke-width="1.1" fill="none"/>
<line x1="76.85" y1="273.00" x2="76.85" y2="462.80" stroke="#9a9a9a" stroke-width="1.1"/>
<line x1="110.77" y1="273.00" x2="110.77" y2="462.80" stroke="#9a9a9a" stroke-width="1.1"/>
<line x1="144.69" y1="273.00" x2="144.69" y2="462.80" stroke="#9a9a9a" stroke-width="1.1"/>
<line x1="178.61" y1="273.00" x2="178.61" y2="462.80" stroke="#9a9a9a" stroke-width="1.1"/>
<line x1="212.53" y1="273.00" x2="212.53" y2="462.80" stroke="#9a9a9a" stroke-width="1.1"/>
<line x1="246.45" y1="273.00" x2="246.45" y2="462.80" stroke="#9a9a9a" stroke-width="1.1"/>
<line x1="280.37" y1="273.00" x2="280.37" y2="462.80" stroke="#9a9a9a" stroke-width="1.1"/>
<line x1="43.10" y1="440.74" x2="296.60" y2="440.74" stroke="#9a9a9a" stroke-width="1.1"/>
<line x1="40.60" y1="440.74" x2="43.10" y2="440.74" stroke="#444" stroke-width="1.0"/>
<line x1="43.10" y1="419.88" x2="296.60" y2="419.88" stroke="#9a9a9a" stroke-width="1.1"/>
<line x1="40.60" y1="419.88" x2="43.10" y2="419.88" stroke="#444" stroke-width="1.0"/>
<line x1="43.10" y1="399.02" x2="296.60" y2="399.02" stroke="#9a9a9a" stroke-width="1.1"/>
<line x1="40.60" y1="399.02" x2="43.10" y2="399.02" stroke="#444" stroke-width="1.0"/>
<line x1="43.10" y1="378.16" x2="296.60" y2="378.16" stroke="#9a9a9a" stroke-width="1.1"/>
<line x1="40.60" y1="378.16" x2="43.10" y2="378.16" stroke="#444" stroke-width="1.0"/>
<line x1="43.10" y1="357.30" x2="296.60" y2="357.30" stroke="#9a9a9a" stroke-width="1.1"/>
<line x1="40.60" y1="357.30" x2="43.10" y2="357.30" stroke="#444" stroke-width="1.0"/>
<line x1="43.10" y1="336.44" x2="296.60" y2="336.44" stroke="#9a9a9a" stroke-width="1.1"/>
<line x1="40.60" y1="336.44" x2="43.10" y2="336.44" stroke="#444" stroke-width="1.0"/>
<line x1="43.10" y1="315.58" x2="296.60" y2="315.58" stroke="#9a9a9a" stroke-width="1.1"/>
<line x1="40.60" y1="315.58" x2="43.10" y2="315.58" stroke="#444" stroke-width="1.0"/>
<line x1="43.10" y1="294.72" x2="296.60" y2="294.72" stroke="#9a9a9a" stroke-width="1.1"/>
<line x1="40.60" y1="294.72" x2="43.10" y2="294.72" stroke="#444" stroke-width="1.0"/>
<line x1="40.60" y1="273.86" x2="43.10" y2="273.86" stroke="#444" stroke-width="1.0"/>
<line x1="40.60" y1="461.60" x2="43.10" y2="461.60" stroke="#444" stroke-width="1.0"/>
<path d="M42.9,461.6 L42.9,461.3 L43.6,461.3 L44.3,461.3 L45.0,459.5 L45.7,459.5 L46.4,459.0 L47.1,457.3 L47.8,456.8 L48.5,458.5 L48.6,458.8 L48.7,459.0 L48.8,459.2 L48.9,459.3 L49.0,459.5 L49.1,459.6 L49.2,459.7 L49.3,459.7 L49.4,459.8 L49.5,459.8 L49.6,459.9 L49.7,459.9 L49.8,459.9 L49.9,459.9 L50.0,459.9 L50.1,459.9 L50.2,459.8 L50.3,459.2 L50.4,457.1 L50.5,452.9 L50.6,446.7 L50.7,439.8 L50.8,433.6 L50.9,428.7 L51.0,425.0 L51.1,422.3 L51.2,420.0 L51.3,417.9 L51.4,415.7 L51.5,413.5 L51.6,411.7 L51.7,410.4 L51.8,410.0 L51.9,410.4 L52.0,411.6 L52.1,413.4 L52.2,415.5 L52.3,417.7 L52.4,419.9 L52.5,422.2 L52.6,424.9 L52.7,428.5 L52.8,433.3 L52.9,439.4 L53.0,446.3 L53.1,452.6 L53.2,457.1 L53.3,459.3 L53.4,460.0 L53.5,460.1 L53.6,460.2 L53.7,460.2 L53.8,460.2 L53.9,460.2 L54.0,460.2 L54.1,460.2 L54.2,460.2 L54.3,460.2 L54.4,460.2 L54.5,460.2 L54.6,460.2 L54.7,460.2 L54.8,460.2 L54.9,460.2 L55.0,460.2 L55.1,460.2 L55.2,460.3 L55.3,460.3 L55.4,460.3 L55.5,460.3 L55.6,460.3 L55.7,460.3 L55.8,460.3 L55.9,460.3 L56.6,460.3 L57.3,460.4 L58.0,460.4 L58.7,460.4 L59.4,460.5 L60.1,460.5 L60.8,460.5 L61.5,460.5 L62.2,460.4 L62.9,459.7 L63.6,458.5 L64.3,458.1 L65.0,459.1 L65.7,460.2 L66.4,460.7 L67.1,460.8 L67.8,460.8 L68.5,460.8 L68.6,460.8 L68.7,460.8 L68.8,460.8 L68.9,460.8 L69.0,460.8 L69.1,460.8 L69.2,460.7 L69.3,460.5 L69.4,460.1 L69.5,459.3 L69.6,458.1 L69.7,456.2 L69.8,453.9 L69.9,451.0 L70.0,447.8 L70.1,444.4 L70.2,441.0 L70.3,437.9 L70.4,435.0 L70.5,432.5 L70.6,430.5 L70.7,428.5 L70.8,425.0 L70.9,417.9 L71.0,407.1 L71.1,395.2 L71.2,385.2 L71.3,378.1 L71.4,373.6 L71.5,370.8 L71.6,368.5 L71.7,366.1 L71.8,362.9 L71.9,358.8 L72.0,353.7 L72.1,348.2 L72.2,343.1 L72.3,339.4 L72.4,337.8 L72.5,338.9 L72.6,342.2 L72.7,347.1 L72.8,352.6 L72.9,357.8 L73.0,362.2 L73.1,365.6 L73.2,368.1 L73.3,370.3 L73.4,373.0 L73.5,377.1 L73.6,383.5 L73.7,393.0 L73.8,404.6 L73.9,416.0 L74.0,424.0 L74.1,428.0 L74.2,430.2 L74.3,432.2 L74.4,434.6 L74.5,437.3 L74.6,440.4 L74.7,443.8 L74.8,447.2 L74.9,450.5 L75.0,453.4 L75.1,455.9 L75.2,457.9 L75.3,459.2 L75.4,460.1 L75.5,460.6 L75.6,460.8 L75.7,460.9 L75.8,461.0 L75.9,461.0 L76.0,461.0 L76.1,461.0 L76.2,461.0 L76.3,461.0 L76.4,461.0 L76.5,461.0 L77.2,461.0 L77.9,461.0 L78.6,461.0 L79.3,461.0 L80.0,461.1 L80.7,461.1 L81.4,461.1 L82.1,461.1 L82.8,461.1 L83.5,461.1 L84.2,461.1 L84.9,461.1 L85.6,461.1 L86.3,461.1 L87.0,461.2 L87.7,461.2 L88.4,461.2 L89.1,461.2 L89.8,461.2 L90.5,461.2 L91.2,461.2 L91.9,461.2 L92.6,461.2 L93.3,461.2 L94.0,461.2 L94.7,461.2 L95.4,461.2 L96.1,461.2 L96.8,461.2 L97.5,461.2 L98.2,461.3 L98.9,461.3 L99.6,461.3 L100.3,461.3 L101.0,461.3 L101.7,461.3 L102.4,461.3 L103.1,461.2 L103.8,460.8 L104.5,459.4 L105.2,457.8 L105.9,458.1 L106.6,459.8 L107.3,460.9 L108.0,461.3 L108.7,461.3 L109.4,461.3 L110.1,461.3 L110.8,461.3 L111.5,461.3 L112.2,461.3 L112.9,461.3 L113.6,461.3 L114.3,461.3 L115.0,461.3 L115.7,461.3 L116.4,461.3 L117.1,461.3 L117.8,461.3 L118.5,461.3 L119.2,461.3 L119.9,461.3 L120.6,461.3 L121.3,461.3 L122.0,461.3 L122.7,461.3 L123.4,461.3 L124.1,461.3 L124.8,461.3 L125.5,461.3 L126.2,461.3 L126.9,461.3 L127.6,461.3 L128.3,461.3 L129.0,461.3 L129.7,461.3 L130.4,461.3 L131.1,461.3 L131.8,461.3 L132.5,461.3 L133.2,461.3 L133.9,461.3 L134.6,461.3 L135.3,461.3 L136.0,461.3 L136.7,461.3 L137.4,461.3 L138.1,461.3 L138.8,461.3 L139.5,461.3 L140.2,461.3 L140.9,461.3 L141.6,461.3 L142.3,461.3 L143.0,461.3 L143.7,461.3 L144.4,461.3 L145.1,461.3 L145.8,461.3 L146.5,461.3 L147.2,461.3 L147.9,461.3 L148.6,461.3 L149.3,461.3 L150.0,461.3 L150.7,461.3 L151.4,461.3 L152.1,461.3 L152.8,461.3 L153.5,461.3 L154.2,461.3 L154.9,461.3 L155.6,461.3 L156.3,461.3 L157.0,461.3 L157.7,461.3 L158.4,461.3 L159.1,461.3 L159.8,461.3 L160.5,461.3 L161.2,461.3 L161.9,461.3 L162.6,461.3 L163.3,461.3 L164.0,461.3 L164.7,461.3 L165.4,461.3 L166.1,461.3 L166.8,461.3 L167.5,461.3 L168.2,461.3 L168.9,461.3 L169.6,461.3 L170.3,461.3 L171.0,461.3 L171.7,461.3 L172.4,461.3 L173.1,461.3 L173.8,461.3 L174.5,461.3 L175.2,461.3 L175.9,461.3 L176.6,461.3 L177.3,461.3 L178.0,461.3 L178.7,461.3 L179.4,461.3 L180.1,461.3 L180.8,461.3 L181.5,461.3 L182.2,461.3 L182.9,461.3 L183.6,461.3 L184.3,461.3 L185.0,461.3 L185.7,461.3 L186.4,461.3 L187.1,461.3 L187.8,461.3 L188.5,461.3 L189.2,461.3 L189.9,461.3 L190.6,461.3 L191.3,461.3 L192.0,461.3 L192.7,461.3 L193.4,461.3 L194.1,461.3 L194.8,461.3 L195.5,461.3 L196.2,461.3 L196.9,461.3 L197.6,461.3 L198.3,461.3 L199.0,461.3 L199.7,461.3 L200.4,461.3 L201.1,461.3 L201.8,461.3 L202.5,461.3 L203.2,461.3 L203.9,461.3 L204.6,461.3 L205.3,461.3 L206.0,461.3 L206.7,461.3 L207.4,461.3 L208.1,461.3 L208.8,461.3 L209.5,461.3 L210.2,461.3 L210.9,461.3 L211.6,461.3 L212.3,461.3 L213.0,461.3 L213.7,461.3 L214.4,461.3 L215.1,461.3 L215.8,461.3 L216.5,461.3 L217.2,461.3 L217.9,461.3 L218.6,461.3 L219.3,461.3 L220.0,461.3 L220.7,461.3 L221.4,461.3 L222.1,461.3 L222.8,461.3 L223.5,461.3 L224.2,461.3 L224.9,461.3 L225.6,461.3 L226.3,461.3 L227.0,461.3 L227.7,461.3 L228.4,461.3 L229.1,461.3 L229.8,461.3 L230.5,461.3 L231.2,461.3 L231.9,461.3 L232.6,461.3 L233.3,461.3 L234.0,461.3 L234.7,461.3 L235.4,461.3 L236.1,461.3 L236.8,461.3 L237.5,461.3 L238.2,461.3 L238.9,461.3 L239.6,461.3 L240.3,461.3 L241.0,461.3 L241.7,461.3 L242.4,461.3 L243.1,461.3 L243.8,461.3 L244.5,461.3 L245.2,461.3 L245.9,461.3 L246.6,461.3 L247.3,461.3 L248.0,461.3 L248.7,461.3 L249.4,461.3 L250.1,461.3 L250.8,461.3 L251.5,461.3 L252.2,461.3 L252.9,461.3 L253.6,461.3 L254.3,461.3 L255.0,461.3 L255.7,461.3 L256.4,461.3 L257.1,461.3 L257.8,461.3 L258.5,461.3 L259.2,461.3 L259.9,461.3 L260.6,461.3 L261.3,461.3 L262.0,461.3 L262.7,461.3 L263.4,461.3 L264.1,461.3 L264.8,461.3 L265.5,461.3 L266.2,461.3 L266.9,461.3 L267.6,461.3 L268.3,461.3 L269.0,461.3 L269.7,461.3 L270.4,461.3 L271.1,461.3 L271.8,461.3 L272.5,461.3 L273.2,461.3 L273.9,461.3 L274.6,461.3 L275.3,461.3 L276.0,461.3 L276.7,461.3 L277.4,461.3 L278.1,461.3 L278.8,461.3 L279.5,461.3 L280.2,461.3 L280.9,461.3 L281.6,461.3 L282.3,461.3 L283.0,461.3 L283.7,461.3 L284.4,461.3 L285.1,461.3 L285.8,461.3 L286.5,461.3 L287.2,461.3 L287.9,461.3 L288.6,461.3 L289.3,461.3 L290.0,461.3 L290.7,461.3 L291.4,461.3 L292.1,461.3 L292.8,461.3 L293.5,461.3 L294.2,461.3 L294.9,461.3 L295.6,461.3 L296.3,461.3 L296.3,461.6 Z" fill="#E98A1F" stroke="#E98A1F" stroke-width="0.4"/>
<line x1="47.80" y1="440.70" x2="47.80" y2="457.50" stroke="#444" stroke-width="1.0"/>
<line x1="52.10" y1="395.30" x2="52.10" y2="411.00" stroke="#444" stroke-width="1.0"/>
<line x1="64.20" y1="440.70" x2="64.20" y2="457.50" stroke="#444" stroke-width="1.0"/>
<line x1="72.50" y1="319.50" x2="72.50" y2="336.40" stroke="#444" stroke-width="1.0"/>
<line x1="99.00" y1="440.70" x2="99.00" y2="457.50" stroke="#444" stroke-width="1.0"/>
<line x1="103.50" y1="440.70" x2="103.50" y2="457.50" stroke="#444" stroke-width="1.0"/>
<line x1="105.50" y1="439.50" x2="105.50" y2="457.50" stroke="#444" stroke-width="1.0"/>
<line x1="111.00" y1="440.70" x2="111.00" y2="457.50" stroke="#444" stroke-width="1.0"/>
<text x="72.30" y="314.50" font-family='"Liberation Sans", sans-serif' font-size="6.4" fill="#222" text-anchor="middle" >Si</text>
<text x="51.90" y="389.70" font-family='"Liberation Sans", sans-serif' font-size="6.4" fill="#222" text-anchor="middle" >O</text>
<text x="47.80" y="435.70" font-family='"Liberation Sans", sans-serif' font-size="6.4" fill="#222" text-anchor="middle" >C</text>
<text x="64.20" y="435.70" font-family='"Liberation Sans", sans-serif' font-size="6.4" fill="#222" text-anchor="middle" >Mg</text>
<text x="105.50" y="428.00" font-family='"Liberation Sans", sans-serif' font-size="6.4" fill="#222" text-anchor="middle" >Ca</text>
<text x="99.00" y="436.20" font-family='"Liberation Sans", sans-serif' font-size="6.4" fill="#222" text-anchor="middle" >K</text>
<text x="103.50" y="436.20" font-family='"Liberation Sans", sans-serif' font-size="6.4" fill="#222" text-anchor="middle" >K</text>
<text x="111.00" y="436.20" font-family='"Liberation Sans", sans-serif' font-size="6.4" fill="#222" text-anchor="middle" >Ca</text>
<line x1="43.10" y1="273.00" x2="296.60" y2="273.00" stroke="#444" stroke-width="1.4"/>
<line x1="43.10" y1="273.00" x2="43.10" y2="461.60" stroke="#6a6a6a" stroke-width="1.5"/>
<line x1="296.60" y1="273.00" x2="296.60" y2="461.60" stroke="#666" stroke-width="1.2"/>
<line x1="43.10" y1="461.40" x2="296.60" y2="461.40" stroke="#cdb47e" stroke-width="1.2"/>
<text x="42.80" y="270.30" font-family='"Liberation Sans", sans-serif' font-size="6.2" fill="#222" text-anchor="start" >001</text>
<text x="36.00" y="279.80" font-family='"Liberation Serif", serif' font-size="8.3" fill="#1c2b4a" font-weight="bold" text-anchor="end" >18</text>
<text x="36.00" y="300.20" font-family='"Liberation Serif", serif' font-size="8.3" fill="#1c2b4a" font-weight="bold" text-anchor="end" >16</text>
<text x="36.00" y="320.60" font-family='"Liberation Serif", serif' font-size="8.3" fill="#1c2b4a" font-weight="bold" text-anchor="end" >14</text>
<text x="36.00" y="341.50" font-family='"Liberation Serif", serif' font-size="8.3" fill="#1c2b4a" font-weight="bold" text-anchor="end" >12</text>
<text x="36.00" y="361.90" font-family='"Liberation Serif", serif' font-size="8.3" fill="#1c2b4a" font-weight="bold" text-anchor="end" >10</text>
<text x="31.80" y="381.30" font-family='"Liberation Sans", sans-serif' font-size="7.2" fill="#444" text-anchor="end" >8</text>
<text x="31.80" y="402.30" font-family='"Liberation Sans", sans-serif' font-size="7.2" fill="#444" text-anchor="end" >6</text>
<text x="31.80" y="422.60" font-family='"Liberation Sans", sans-serif' font-size="7.2" fill="#444" text-anchor="end" >4</text>
<text x="31.80" y="442.90" font-family='"Liberation Sans", sans-serif' font-size="7.2" fill="#444" text-anchor="end" >2</text>
<text x="31.80" y="462.80" font-family='"Liberation Sans", sans-serif' font-size="7.2" fill="#444" text-anchor="end" >0</text>
<text x="44.40" y="472.80" font-family='"Liberation Serif", serif' font-size="10.5" fill="#222" text-anchor="middle" stroke="#222" stroke-width="0.15">0.00</text>
<text x="78.50" y="472.80" font-family='"Liberation Serif", serif' font-size="10.5" fill="#222" text-anchor="middle" stroke="#222" stroke-width="0.15">2.00</text>
<text x="112.20" y="472.80" font-family='"Liberation Serif", serif' font-size="10.5" fill="#222" text-anchor="middle" stroke="#222" stroke-width="0.15">4.00</text>
<text x="143.20" y="472.80" font-family='"Liberation Serif", serif' font-size="10.5" fill="#222" text-anchor="middle" stroke="#222" stroke-width="0.15">6.00</text>
<text x="177.40" y="472.80" font-family='"Liberation Serif", serif' font-size="10.5" fill="#222" text-anchor="middle" stroke="#222" stroke-width="0.15">8.00</text>
<text x="211.60" y="472.80" font-family='"Liberation Serif", serif' font-size="10.5" fill="#222" text-anchor="middle" stroke="#222" stroke-width="0.15">10.00</text>
<text x="249.10" y="472.80" font-family='"Liberation Serif", serif' font-size="10.5" fill="#222" text-anchor="middle" stroke="#222" stroke-width="0.15">12.00</text>
<text x="283.10" y="472.80" font-family='"Liberation Serif", serif' font-size="10.5" fill="#222" text-anchor="middle" stroke="#222" stroke-width="0.15">14.00</text>
<text x="170.20" y="480.00" font-family='"Liberation Serif", serif' font-size="8.8" fill="#333" text-anchor="middle" >keV</text>
<text transform="translate(22.40,371.60) rotate(-90)" font-family='"Liberation Serif", serif' font-size="11.3" fill="#222" stroke="#222" stroke-width="0.08" text-anchor="middle"><tspan letter-spacing="0.5">Counts</tspan><tspan letter-spacing="-0.3"> [1 × 10</tspan><tspan font-size="7" dx="0.6" dy="-4.3">3</tspan><tspan dy="4.3">]</tspan></text>
<rect x="176.7" y="274.6" width="119.30000000000001" height="111.19999999999999" fill="#fff"/>
<line x1="219.50" y1="274.60" x2="219.50" y2="385.80" stroke="#424242" stroke-width="1.3"/>
<line x1="257.40" y1="274.60" x2="257.40" y2="385.80" stroke="#424242" stroke-width="1.3"/>
<line x1="176.70" y1="288.90" x2="296.00" y2="288.90" stroke="#424242" stroke-width="1.3"/>
<line x1="176.70" y1="302.60" x2="296.00" y2="302.60" stroke="#424242" stroke-width="1.3"/>
<line x1="176.70" y1="316.60" x2="296.00" y2="316.60" stroke="#424242" stroke-width="1.3"/>
<line x1="176.70" y1="330.40" x2="296.00" y2="330.40" stroke="#424242" stroke-width="1.3"/>
<line x1="176.70" y1="344.10" x2="296.00" y2="344.10" stroke="#424242" stroke-width="1.3"/>
<line x1="176.70" y1="358.40" x2="296.00" y2="358.40" stroke="#424242" stroke-width="1.3"/>
<line x1="176.70" y1="371.90" x2="296.00" y2="371.90" stroke="#424242" stroke-width="1.3"/>
<rect x="176.70" y="274.60" width="119.30" height="111.20" stroke="#404040" stroke-width="1.65" fill="none"/>
<text transform="translate(198.10,286.16) scale(0.94,1)" font-family='"Liberation Sans", sans-serif' font-size="9.2" fill="#1a1a1a" font-weight="bold" text-anchor="middle" stroke="#1a1a1a" stroke-width="0.15">Element</text>
<text transform="translate(238.45,286.16) scale(0.94,1)" font-family='"Liberation Sans", sans-serif' font-size="9.2" fill="#1a1a1a" font-weight="bold" text-anchor="middle" stroke="#1a1a1a" stroke-width="0.15">wt%</text>
<text transform="translate(276.70,286.16) scale(0.94,1)" font-family='"Liberation Sans", sans-serif' font-size="9.2" fill="#1a1a1a" font-weight="bold" text-anchor="middle" stroke="#1a1a1a" stroke-width="0.15">Atom%</text>
<text transform="translate(178.70,300.25) scale(0.8,1)" font-family='"Liberation Sans", sans-serif' font-size="10" fill="#1a1a1a" font-weight="bold" text-anchor="start" stroke="#1a1a1a" stroke-width="0.22">C</text>
<text transform="translate(255.80,299.71) scale(0.76,1)" font-family='"Liberation Sans", sans-serif' font-size="10.3" fill="#333" text-anchor="end" stroke="#333" stroke-width="0.12">4.88</text>
<text transform="translate(294.40,299.71) scale(0.76,1)" font-family='"Liberation Sans", sans-serif' font-size="10.3" fill="#333" text-anchor="end" stroke="#333" stroke-width="0.12">7.79</text>
<text transform="translate(178.70,314.10) scale(0.8,1)" font-family='"Liberation Sans", sans-serif' font-size="10" fill="#1a1a1a" font-weight="bold" text-anchor="start" stroke="#1a1a1a" stroke-width="0.22">O</text>
<text transform="translate(255.80,313.56) scale(0.76,1)" font-family='"Liberation Sans", sans-serif' font-size="10.3" fill="#333" text-anchor="end" stroke="#333" stroke-width="0.12">53.55</text>
<text transform="translate(294.40,313.56) scale(0.76,1)" font-family='"Liberation Sans", sans-serif' font-size="10.3" fill="#333" text-anchor="end" stroke="#333" stroke-width="0.12">64.13</text>
<text transform="translate(178.70,328.00) scale(0.8,1)" font-family='"Liberation Sans", sans-serif' font-size="10" fill="#1a1a1a" font-weight="bold" text-anchor="start" stroke="#1a1a1a" stroke-width="0.22">Mg</text>
<text transform="translate(255.80,327.46) scale(0.76,1)" font-family='"Liberation Sans", sans-serif' font-size="10.3" fill="#333" text-anchor="end" stroke="#333" stroke-width="0.12">0.28</text>
<text transform="translate(294.40,327.46) scale(0.76,1)" font-family='"Liberation Sans", sans-serif' font-size="10.3" fill="#333" text-anchor="end" stroke="#333" stroke-width="0.12">0.22</text>
<text transform="translate(178.70,341.75) scale(0.8,1)" font-family='"Liberation Sans", sans-serif' font-size="10" fill="#1a1a1a" font-weight="bold" text-anchor="start" stroke="#1a1a1a" stroke-width="0.22">Si</text>
<text transform="translate(255.80,341.21) scale(0.76,1)" font-family='"Liberation Sans", sans-serif' font-size="10.3" fill="#333" text-anchor="end" stroke="#333" stroke-width="0.12">39.77</text>
<text transform="translate(294.40,341.21) scale(0.76,1)" font-family='"Liberation Sans", sans-serif' font-size="10.3" fill="#333" text-anchor="end" stroke="#333" stroke-width="0.12">27.13</text>
<text transform="translate(178.70,355.75) scale(0.8,1)" font-family='"Liberation Sans", sans-serif' font-size="10" fill="#1a1a1a" font-weight="bold" text-anchor="start" stroke="#1a1a1a" stroke-width="0.22">K</text>
<text transform="translate(255.80,355.21) scale(0.76,1)" font-family='"Liberation Sans", sans-serif' font-size="10.3" fill="#333" text-anchor="end" stroke="#333" stroke-width="0.12">0.22</text>
<text transform="translate(294.40,355.21) scale(0.76,1)" font-family='"Liberation Sans", sans-serif' font-size="10.3" fill="#333" text-anchor="end" stroke="#333" stroke-width="0.12">0.11</text>
<text transform="translate(178.70,369.65) scale(0.8,1)" font-family='"Liberation Sans", sans-serif' font-size="10" fill="#1a1a1a" font-weight="bold" text-anchor="start" stroke="#1a1a1a" stroke-width="0.22">Ca</text>
<text transform="translate(255.80,369.11) scale(0.76,1)" font-family='"Liberation Sans", sans-serif' font-size="10.3" fill="#333" text-anchor="end" stroke="#333" stroke-width="0.12">1.3</text>
<text transform="translate(294.40,369.11) scale(0.76,1)" font-family='"Liberation Sans", sans-serif' font-size="10.3" fill="#333" text-anchor="end" stroke="#333" stroke-width="0.12">0.62</text>
<text transform="translate(178.70,383.35) scale(0.8,1)" font-family='"Liberation Sans", sans-serif' font-size="10" fill="#1a1a1a" font-weight="bold" text-anchor="start" stroke="#1a1a1a" stroke-width="0.22">Total</text>
<text transform="translate(255.80,382.81) scale(0.76,1)" font-family='"Liberation Sans", sans-serif' font-size="10.3" fill="#333" text-anchor="end" stroke="#333" stroke-width="0.12">100</text>
<text transform="translate(294.40,382.81) scale(0.76,1)" font-family='"Liberation Sans", sans-serif' font-size="10.3" fill="#333" text-anchor="end" stroke="#333" stroke-width="0.12">100</text>
<text x="156.80" y="504.00" font-family='"Liberation Serif", serif' font-size="20" fill="#111" text-anchor="middle" >(c)</text>
<rect x="317.60" y="262.30" width="287.00" height="221.30" stroke="#5a5a5a" stroke-width="1.1" fill="none"/>
<line x1="384.12" y1="273.90" x2="384.12" y2="463.80" stroke="#9a9a9a" stroke-width="1.1"/>
<line x1="418.14" y1="273.90" x2="418.14" y2="463.80" stroke="#9a9a9a" stroke-width="1.1"/>
<line x1="452.16" y1="273.90" x2="452.16" y2="463.80" stroke="#9a9a9a" stroke-width="1.1"/>
<line x1="486.18" y1="273.90" x2="486.18" y2="463.80" stroke="#9a9a9a" stroke-width="1.1"/>
<line x1="520.20" y1="273.90" x2="520.20" y2="463.80" stroke="#9a9a9a" stroke-width="1.1"/>
<line x1="554.22" y1="273.90" x2="554.22" y2="463.80" stroke="#9a9a9a" stroke-width="1.1"/>
<line x1="588.24" y1="273.90" x2="588.24" y2="463.80" stroke="#9a9a9a" stroke-width="1.1"/>
<line x1="349.90" y1="420.85" x2="604.40" y2="420.85" stroke="#9a9a9a" stroke-width="1.1"/>
<line x1="347.40" y1="420.85" x2="349.90" y2="420.85" stroke="#444" stroke-width="1.0"/>
<line x1="349.90" y1="379.30" x2="604.40" y2="379.30" stroke="#9a9a9a" stroke-width="1.1"/>
<line x1="347.40" y1="379.30" x2="349.90" y2="379.30" stroke="#444" stroke-width="1.0"/>
<line x1="349.90" y1="337.75" x2="604.40" y2="337.75" stroke="#9a9a9a" stroke-width="1.1"/>
<line x1="347.40" y1="337.75" x2="349.90" y2="337.75" stroke="#444" stroke-width="1.0"/>
<line x1="349.90" y1="296.20" x2="604.40" y2="296.20" stroke="#9a9a9a" stroke-width="1.1"/>
<line x1="347.40" y1="296.20" x2="349.90" y2="296.20" stroke="#444" stroke-width="1.0"/>
<line x1="347.40" y1="462.60" x2="349.90" y2="462.60" stroke="#444" stroke-width="1.0"/>
<path d="M350.1,462.6 L350.1,460.0 L350.8,460.0 L350.9,460.0 L351.0,460.0 L351.1,460.0 L351.2,460.0 L351.3,460.0 L351.4,460.0 L351.5,460.0 L351.6,460.0 L351.7,460.0 L351.8,460.0 L351.9,460.0 L352.0,460.0 L352.1,460.0 L352.2,460.0 L352.3,460.0 L352.4,459.9 L352.5,459.9 L352.6,459.9 L352.7,459.9 L352.8,459.7 L352.9,459.1 L353.0,457.7 L353.1,455.2 L353.2,451.6 L353.3,447.5 L353.4,443.3 L353.5,439.5 L353.6,436.3 L353.7,433.6 L353.8,431.0 L353.9,428.3 L354.0,425.4 L354.1,422.3 L354.2,419.4 L354.3,417.1 L354.4,415.9 L354.5,416.1 L354.6,417.6 L354.7,420.1 L354.8,423.0 L354.9,426.1 L355.0,429.0 L355.1,431.6 L355.2,434.2 L355.3,437.0 L355.4,440.4 L355.5,444.2 L355.6,448.4 L355.7,452.5 L355.8,455.8 L355.9,458.0 L356.0,459.2 L356.1,459.7 L356.2,459.8 L356.3,459.8 L356.4,459.8 L356.5,459.8 L356.6,459.8 L356.7,459.8 L356.8,459.8 L356.9,459.8 L357.0,459.8 L357.1,459.8 L357.2,459.8 L357.3,459.7 L357.4,459.0 L357.5,456.6 L357.6,451.7 L357.7,444.7 L357.8,437.5 L357.9,431.5 L358.0,427.0 L358.1,423.9 L358.2,421.4 L358.3,419.2 L358.4,417.0 L358.5,414.8 L358.6,413.0 L358.7,411.8 L358.8,411.6 L358.9,412.3 L359.0,413.8 L359.1,415.9 L359.2,418.1 L359.3,420.3 L359.4,422.6 L359.5,425.3 L359.6,429.0 L359.7,434.2 L359.8,441.0 L359.9,448.3 L360.0,454.4 L360.1,458.0 L360.2,459.4 L360.3,459.7 L360.4,459.7 L360.5,459.7 L360.6,459.7 L360.7,459.7 L360.8,459.7 L360.9,459.7 L361.0,459.7 L361.1,459.7 L361.2,459.7 L361.3,459.7 L361.4,459.7 L361.5,459.7 L361.6,459.7 L361.7,459.7 L361.8,459.7 L361.9,459.7 L362.0,459.7 L362.1,459.7 L362.2,459.7 L362.3,459.7 L362.4,459.6 L362.5,459.6 L362.6,459.6 L362.7,459.6 L362.8,459.6 L363.5,459.6 L364.2,459.6 L364.9,459.6 L365.6,459.6 L366.3,459.5 L367.0,459.5 L367.7,459.5 L368.4,459.5 L369.1,459.5 L369.8,459.3 L370.5,459.0 L371.2,458.7 L371.9,458.8 L372.6,459.2 L373.3,459.4 L374.0,459.5 L374.7,459.5 L375.4,459.5 L376.1,459.5 L376.8,459.5 L377.5,459.5 L378.2,459.5 L378.9,459.5 L379.6,459.5 L380.3,459.6 L381.0,459.6 L381.7,459.5 L382.4,459.4 L383.1,458.9 L383.8,458.1 L384.5,457.4 L385.2,457.3 L385.9,457.9 L386.6,458.8 L387.3,459.5 L388.0,459.8 L388.7,459.9 L389.4,459.9 L390.1,460.0 L390.8,460.0 L391.5,460.1 L392.2,460.1 L392.9,460.1 L393.6,460.2 L394.3,460.2 L395.0,460.2 L395.7,460.3 L396.4,460.3 L397.1,460.3 L397.8,460.4 L398.5,460.4 L399.2,460.4 L399.9,460.5 L400.6,460.5 L401.3,460.5 L402.0,460.6 L402.7,460.6 L403.4,460.6 L404.1,460.6 L404.8,460.7 L405.5,460.7 L406.2,460.7 L406.9,460.7 L407.6,460.8 L408.3,460.8 L409.0,460.1 L409.1,459.6 L409.2,458.9 L409.3,457.8 L409.4,456.4 L409.5,454.7 L409.6,452.6 L409.7,450.2 L409.8,447.6 L409.9,444.8 L410.0,442.0 L410.1,439.2 L410.2,436.6 L410.3,434.1 L410.4,431.7 L410.5,429.5 L410.6,427.1 L410.7,424.4 L410.8,420.9 L410.9,416.5 L411.0,411.0 L411.1,404.5 L411.2,397.4 L411.3,390.2 L411.4,383.4 L411.5,377.3 L411.6,371.9 L411.7,367.2 L411.8,362.9 L411.9,358.7 L412.0,354.5 L412.1,350.4 L412.2,346.6 L412.3,343.7 L412.4,342.2 L412.5,342.3 L412.6,344.1 L412.7,347.2 L412.8,351.1 L412.9,355.2 L413.0,359.4 L413.1,363.6 L413.2,368.0 L413.3,372.8 L413.4,378.3 L413.5,384.5 L413.6,391.5 L413.7,398.7 L413.8,405.7 L413.9,412.0 L414.0,417.4 L414.1,421.7 L414.2,425.0 L414.3,427.6 L414.4,429.9 L414.5,432.2 L414.6,434.6 L414.7,437.1 L414.8,439.8 L414.9,442.6 L415.0,445.4 L415.1,448.2 L415.2,450.7 L415.3,453.1 L415.4,455.1 L415.5,456.8 L415.6,458.2 L415.7,459.2 L415.8,459.9 L415.9,460.3 L416.0,460.6 L416.1,460.6 L416.2,460.6 L416.3,460.3 L416.4,459.8 L416.5,459.0 L416.6,457.9 L416.7,456.5 L416.8,454.7 L416.9,452.7 L417.0,450.5 L417.1,448.3 L417.2,446.2 L417.3,444.4 L417.4,442.9 L417.5,441.8 L417.6,441.0 L417.7,440.5 L417.8,440.3 L417.9,440.2 L418.0,440.2 L418.1,440.2 L418.2,440.4 L418.3,440.8 L418.4,441.4 L418.5,442.4 L418.6,443.8 L418.7,445.5 L418.8,447.5 L418.9,449.6 L419.0,451.9 L419.1,454.0 L419.2,455.9 L419.3,457.5 L419.4,458.7 L419.5,459.6 L419.6,460.2 L419.7,460.6 L419.8,460.8 L419.9,460.9 L420.0,461.0 L420.1,461.0 L420.2,461.0 L420.3,461.0 L420.4,461.0 L420.5,461.0 L420.6,461.0 L420.7,461.0 L420.8,461.0 L420.9,461.0 L421.0,461.0 L421.1,461.0 L421.2,461.0 L421.3,461.0 L421.4,461.0 L421.5,461.0 L421.6,461.0 L421.7,461.0 L421.8,461.0 L421.9,461.0 L422.0,461.0 L422.7,461.0 L423.4,461.0 L424.1,461.0 L424.8,461.1 L425.5,461.1 L426.2,461.1 L426.9,461.1 L427.6,461.1 L428.3,461.1 L429.0,461.1 L429.7,461.1 L430.4,461.1 L431.1,461.1 L431.8,461.1 L432.5,461.1 L433.2,461.1 L433.9,461.1 L434.6,461.1 L435.3,461.1 L436.0,461.1 L436.7,461.1 L437.4,461.1 L438.1,461.1 L438.8,461.1 L439.5,461.1 L440.2,461.1 L440.9,461.1 L441.6,461.1 L442.3,461.1 L443.0,461.1 L443.7,461.2 L444.4,461.2 L445.1,461.2 L445.8,461.2 L446.5,461.2 L447.2,461.2 L447.9,461.2 L448.6,461.2 L449.3,461.2 L450.0,461.2 L450.7,461.2 L451.4,461.2 L452.1,461.2 L452.8,461.2 L453.5,461.2 L454.2,461.2 L454.9,461.2 L455.6,461.2 L456.3,461.2 L457.0,461.2 L457.7,461.2 L458.4,461.2 L459.1,461.2 L459.8,461.2 L460.5,461.2 L461.2,461.2 L461.9,461.2 L462.6,461.2 L463.3,461.2 L464.0,461.2 L464.7,461.2 L465.4,461.2 L466.1,461.2 L466.8,461.2 L467.5,461.2 L468.2,461.2 L468.9,461.2 L469.6,461.2 L470.3,461.2 L471.0,461.2 L471.7,461.2 L472.4,461.2 L473.1,461.2 L473.8,461.2 L474.5,461.2 L475.2,461.2 L475.9,461.2 L476.6,461.2 L477.3,461.2 L478.0,461.3 L478.7,461.3 L479.4,461.3 L480.1,461.3 L480.8,461.3 L481.5,461.3 L482.2,461.3 L482.9,461.3 L483.6,461.3 L484.3,461.3 L485.0,461.3 L485.7,461.3 L486.4,461.3 L487.1,461.3 L487.8,461.3 L488.5,461.3 L489.2,461.3 L489.9,461.3 L490.6,461.3 L491.3,461.3 L492.0,461.3 L492.7,461.3 L493.4,461.3 L494.1,461.3 L494.8,461.3 L495.5,461.3 L496.2,461.3 L496.9,461.3 L497.6,461.3 L498.3,461.3 L499.0,461.3 L499.7,461.3 L500.4,461.3 L501.1,461.3 L501.8,461.3 L502.5,461.3 L503.2,461.3 L503.9,461.3 L504.6,461.3 L505.3,461.3 L506.0,461.3 L506.7,461.3 L507.4,461.3 L508.1,461.3 L508.8,461.3 L509.5,461.3 L510.2,461.3 L510.9,461.3 L511.6,461.3 L512.3,461.3 L513.0,461.3 L513.7,461.3 L514.4,461.3 L515.1,461.3 L515.8,461.3 L516.5,461.3 L517.2,461.3 L517.9,461.3 L518.6,461.3 L519.3,461.3 L520.0,461.3 L520.7,461.3 L521.4,461.3 L522.1,461.3 L522.8,461.3 L523.5,461.3 L524.2,461.3 L524.9,461.3 L525.6,461.3 L526.3,461.3 L527.0,461.3 L527.7,461.3 L528.4,461.3 L529.1,461.3 L529.8,461.3 L530.5,461.3 L531.2,461.3 L531.9,461.3 L532.6,461.3 L533.3,461.3 L534.0,461.3 L534.7,461.3 L535.4,461.3 L536.1,461.3 L536.8,461.3 L537.5,461.3 L538.2,461.3 L538.9,461.3 L539.6,461.3 L540.3,461.3 L541.0,461.3 L541.7,461.3 L542.4,461.3 L543.1,461.3 L543.8,461.3 L544.5,461.3 L545.2,461.3 L545.9,461.3 L546.6,461.3 L547.3,461.3 L548.0,461.3 L548.7,461.3 L549.4,461.3 L550.1,461.4 L550.8,461.4 L551.5,461.4 L552.2,461.4 L552.9,461.4 L553.6,461.4 L554.3,461.4 L555.0,461.4 L555.7,461.4 L556.4,461.4 L557.1,461.4 L557.8,461.4 L558.5,461.4 L559.2,461.4 L559.9,461.4 L560.6,461.4 L561.3,461.4 L562.0,461.4 L562.7,461.4 L563.4,461.4 L564.1,461.4 L564.8,461.4 L565.5,461.4 L566.2,461.4 L566.9,461.4 L567.6,461.4 L568.3,461.4 L569.0,461.4 L569.7,461.4 L570.4,461.4 L571.1,461.4 L571.8,461.4 L572.5,461.4 L573.2,461.4 L573.9,461.4 L574.6,461.4 L575.3,461.4 L576.0,461.4 L576.7,461.4 L577.4,461.4 L578.1,461.4 L578.8,461.4 L579.5,461.4 L580.2,461.4 L580.9,461.4 L581.6,461.4 L582.3,461.4 L583.0,461.4 L583.7,461.4 L584.4,461.4 L585.1,461.4 L585.8,461.4 L586.5,461.4 L587.2,461.4 L587.9,461.4 L588.6,461.4 L589.3,461.4 L590.0,461.4 L590.7,461.4 L591.4,461.4 L592.1,461.4 L592.8,461.4 L593.5,461.4 L594.2,461.4 L594.9,461.4 L595.6,461.4 L596.3,461.4 L597.0,461.4 L597.7,461.4 L598.4,461.4 L599.1,461.4 L599.8,461.4 L600.5,461.4 L601.2,461.4 L601.9,461.4 L602.6,461.4 L603.3,461.4 L604.0,461.4 L604.0,462.6 Z" fill="#E98A1F" stroke="#E98A1F" stroke-width="0.4"/>
<line x1="354.40" y1="398.90" x2="354.40" y2="415.50" stroke="#444" stroke-width="1.0"/>
<line x1="358.80" y1="396.90" x2="358.80" y2="412.50" stroke="#444" stroke-width="1.0"/>
<line x1="363.80" y1="441.60" x2="363.80" y2="458.20" stroke="#444" stroke-width="1.0"/>
<line x1="364.60" y1="441.60" x2="364.60" y2="458.20" stroke="#444" stroke-width="1.0"/>
<line x1="365.40" y1="441.60" x2="365.40" y2="458.20" stroke="#444" stroke-width="1.0"/>
<line x1="366.20" y1="441.60" x2="366.20" y2="458.20" stroke="#444" stroke-width="1.0"/>
<line x1="367.70" y1="440.00" x2="367.70" y2="458.20" stroke="#444" stroke-width="1.0"/>
<line x1="371.20" y1="439.60" x2="371.20" y2="458.20" stroke="#444" stroke-width="1.0"/>
<line x1="375.00" y1="440.30" x2="375.00" y2="458.20" stroke="#444" stroke-width="1.0"/>
<line x1="412.60" y1="320.00" x2="412.60" y2="336.90" stroke="#444" stroke-width="1.0"/>
<line x1="418.00" y1="425.10" x2="418.00" y2="444.40" stroke="#444" stroke-width="1.0"/>
<line x1="486.00" y1="441.30" x2="486.00" y2="459.50" stroke="#444" stroke-width="1.0"/>
<line x1="496.40" y1="441.30" x2="496.40" y2="459.50" stroke="#444" stroke-width="1.0"/>
<line x1="500.60" y1="441.30" x2="500.60" y2="459.50" stroke="#444" stroke-width="1.0"/>
<line x1="512.00" y1="441.30" x2="512.00" y2="459.50" stroke="#444" stroke-width="1.0"/>
<text x="412.60" y="315.20" font-family='"Liberation Sans", sans-serif' font-size="6.4" fill="#222" text-anchor="middle" >Ca</text>
<text x="354.40" y="393.60" font-family='"Liberation Sans", sans-serif' font-size="6.4" fill="#222" text-anchor="middle" >C</text>
<text x="358.40" y="385.30" font-family='"Liberation Sans", sans-serif' font-size="6.4" fill="#222" text-anchor="middle" >O</text>
<text x="371.20" y="401.80" font-family='"Liberation Sans", sans-serif' font-size="6.4" fill="#222" text-anchor="middle" >Mg</text>
<text x="366.80" y="410.80" font-family='"Liberation Sans", sans-serif' font-size="6.4" fill="#222" text-anchor="middle" >Zn</text>
<text x="365.70" y="419.70" font-family='"Liberation Sans", sans-serif' font-size="6.4" fill="#222" text-anchor="middle" >Cu</text>
<text x="364.30" y="428.00" font-family='"Liberation Sans", sans-serif' font-size="6.4" fill="#222" text-anchor="middle" >Zn</text>
<text x="363.60" y="436.30" font-family='"Liberation Sans", sans-serif' font-size="6.4" fill="#222" text-anchor="middle" >Cu</text>
<text x="374.60" y="434.90" font-family='"Liberation Sans", sans-serif' font-size="6.4" fill="#222" text-anchor="middle" >Al</text>
<text x="418.50" y="420.70" font-family='"Liberation Sans", sans-serif' font-size="6.4" fill="#222" text-anchor="middle" >Ca</text>
<text x="486.00" y="437.00" font-family='"Liberation Sans", sans-serif' font-size="6.4" fill="#222" text-anchor="middle" >Cu</text>
<text x="496.40" y="437.00" font-family='"Liberation Sans", sans-serif' font-size="6.4" fill="#222" text-anchor="middle" >Zn</text>
<text x="500.60" y="428.00" font-family='"Liberation Sans", sans-serif' font-size="6.4" fill="#222" text-anchor="middle" >Cu</text>
<text x="512.00" y="437.00" font-family='"Liberation Sans", sans-serif' font-size="6.4" fill="#222" text-anchor="middle" >Zn</text>
<line x1="349.90" y1="273.90" x2="604.40" y2="273.90" stroke="#444" stroke-width="1.4"/>
<line x1="349.90" y1="273.90" x2="349.90" y2="462.60" stroke="#6a6a6a" stroke-width="1.5"/>
<line x1="604.40" y1="273.90" x2="604.40" y2="462.60" stroke="#666" stroke-width="1.2"/>
<line x1="349.90" y1="462.40" x2="604.40" y2="462.40" stroke="#cdb47e" stroke-width="1.2"/>
<text x="349.80" y="271.60" font-family='"Liberation Sans", sans-serif' font-size="6.2" fill="#222" text-anchor="start" >001</text>
<text x="334.70" y="298.70" font-family='"Liberation Serif", serif' font-size="7.8" fill="#444" text-anchor="start" >20</text>
<text x="334.70" y="341.60" font-family='"Liberation Serif", serif' font-size="7.8" fill="#444" text-anchor="start" >15</text>
<text x="334.90" y="385.30" font-family='"Liberation Serif", serif' font-size="7.8" fill="#444" text-anchor="start" >10</text>
<text x="334.90" y="429.30" font-family='"Liberation Serif", serif' font-size="7.8" fill="#444" text-anchor="start" >5</text>
<text x="334.70" y="471.90" font-family='"Liberation Serif", serif' font-size="7.8" fill="#444" text-anchor="start" >0</text>
<text x="352.30" y="474.50" font-family='"Liberation Serif", serif' font-size="10.5" fill="#222" text-anchor="middle" stroke="#222" stroke-width="0.15">0.00</text>
<text x="385.10" y="474.50" font-family='"Liberation Serif", serif' font-size="10.5" fill="#222" text-anchor="middle" stroke="#222" stroke-width="0.15">2.00</text>
<text x="417.80" y="474.50" font-family='"Liberation Serif", serif' font-size="10.5" fill="#222" text-anchor="middle" stroke="#222" stroke-width="0.15">4.00</text>
<text x="448.50" y="474.50" font-family='"Liberation Serif", serif' font-size="10.5" fill="#222" text-anchor="middle" stroke="#222" stroke-width="0.15">6.00</text>
<text x="481.10" y="474.50" font-family='"Liberation Serif", serif' font-size="10.5" fill="#222" text-anchor="middle" stroke="#222" stroke-width="0.15">8.00</text>
<text x="514.10" y="474.50" font-family='"Liberation Serif", serif' font-size="10.5" fill="#222" text-anchor="middle" stroke="#222" stroke-width="0.15">10.00</text>
<text x="550.40" y="474.50" font-family='"Liberation Serif", serif' font-size="10.5" fill="#222" text-anchor="middle" stroke="#222" stroke-width="0.15">12.00</text>
<text x="583.80" y="474.50" font-family='"Liberation Serif", serif' font-size="10.5" fill="#222" text-anchor="middle" stroke="#222" stroke-width="0.15">14.00</text>
<text x="477.90" y="482.00" font-family='"Liberation Serif", serif' font-size="8.8" fill="#333" text-anchor="middle" >keV</text>
<text transform="translate(328.50,366.40) rotate(-90)" font-family='"Liberation Serif", serif' font-size="11.3" fill="#222" stroke="#222" stroke-width="0.08" text-anchor="middle"><tspan letter-spacing="0.5">Counts</tspan><tspan letter-spacing="-0.3"> [1 × 10</tspan><tspan font-size="7" dx="0.6" dy="-4.3">3</tspan><tspan dy="4.3">]</tspan></text>
<rect x="526.4" y="275" width="77.10000000000002" height="95" fill="#fff"/>
<line x1="554.20" y1="275.00" x2="554.20" y2="370.00" stroke="#777" stroke-width="0.9"/>
<line x1="578.80" y1="275.00" x2="578.80" y2="370.00" stroke="#777" stroke-width="0.9"/>
<line x1="526.40" y1="285.40" x2="603.50" y2="285.40" stroke="#777" stroke-width="0.9"/>
<line x1="526.40" y1="295.90" x2="603.50" y2="295.90" stroke="#777" stroke-width="0.9"/>
<line x1="526.40" y1="306.60" x2="603.50" y2="306.60" stroke="#777" stroke-width="0.9"/>
<line x1="526.40" y1="317.30" x2="603.50" y2="317.30" stroke="#777" stroke-width="0.9"/>
<line x1="526.40" y1="328.00" x2="603.50" y2="328.00" stroke="#777" stroke-width="0.9"/>
<line x1="526.40" y1="338.50" x2="603.50" y2="338.50" stroke="#777" stroke-width="0.9"/>
<line x1="526.40" y1="349.10" x2="603.50" y2="349.10" stroke="#777" stroke-width="0.9"/>
<line x1="526.40" y1="359.60" x2="603.50" y2="359.60" stroke="#777" stroke-width="0.9"/>
<rect x="526.40" y="275.00" width="77.10" height="95.00" stroke="#666" stroke-width="1.0" fill="none"/>
<text transform="translate(540.30,282.95) scale(0.9,1)" font-family='"Liberation Sans", sans-serif' font-size="6.8" fill="#1a1a1a" font-weight="bold" text-anchor="middle" stroke="#1a1a1a" stroke-width="0">Formula</text>
<text transform="translate(566.50,282.95) scale(0.9,1)" font-family='"Liberation Sans", sans-serif' font-size="6.8" fill="#1a1a1a" font-weight="bold" text-anchor="middle" stroke="#1a1a1a" stroke-width="0">mass%</text>
<text transform="translate(591.15,282.95) scale(0.9,1)" font-family='"Liberation Sans", sans-serif' font-size="6.8" fill="#1a1a1a" font-weight="bold" text-anchor="middle" stroke="#1a1a1a" stroke-width="0">Atom%</text>
<text transform="translate(527.90,293.39) scale(0.9,1)" font-family='"Liberation Sans", sans-serif' font-size="7.6" fill="#1a1a1a" font-weight="bold" text-anchor="start" stroke="#1a1a1a" stroke-width="0">C</text>
<text transform="translate(577.60,293.39) scale(0.92,1)" font-family='"Liberation Sans", sans-serif' font-size="7.6" fill="#333" text-anchor="end" stroke="#333" stroke-width="0">20.5</text>
<text transform="translate(602.30,293.39) scale(0.92,1)" font-family='"Liberation Sans", sans-serif' font-size="7.6" fill="#333" text-anchor="end" stroke="#333" stroke-width="0">30.84</text>
<text transform="translate(527.90,303.99) scale(0.9,1)" font-family='"Liberation Sans", sans-serif' font-size="7.6" fill="#1a1a1a" font-weight="bold" text-anchor="start" stroke="#1a1a1a" stroke-width="0">O</text>
<text transform="translate(577.60,303.99) scale(0.92,1)" font-family='"Liberation Sans", sans-serif' font-size="7.6" fill="#333" text-anchor="end" stroke="#333" stroke-width="0">49.34</text>
<text transform="translate(602.30,303.99) scale(0.92,1)" font-family='"Liberation Sans", sans-serif' font-size="7.6" fill="#333" text-anchor="end" stroke="#333" stroke-width="0">55.73</text>
<text transform="translate(527.90,314.69) scale(0.9,1)" font-family='"Liberation Sans", sans-serif' font-size="7.6" fill="#1a1a1a" font-weight="bold" text-anchor="start" stroke="#1a1a1a" stroke-width="0">Mg</text>
<text transform="translate(577.60,314.69) scale(0.92,1)" font-family='"Liberation Sans", sans-serif' font-size="7.6" fill="#333" text-anchor="end" stroke="#333" stroke-width="0">0.38</text>
<text transform="translate(602.30,314.69) scale(0.92,1)" font-family='"Liberation Sans", sans-serif' font-size="7.6" fill="#333" text-anchor="end" stroke="#333" stroke-width="0">0.29</text>
<text transform="translate(527.90,325.39) scale(0.9,1)" font-family='"Liberation Sans", sans-serif' font-size="7.6" fill="#1a1a1a" font-weight="bold" text-anchor="start" stroke="#1a1a1a" stroke-width="0">Al</text>
<text transform="translate(577.60,325.39) scale(0.92,1)" font-family='"Liberation Sans", sans-serif' font-size="7.6" fill="#333" text-anchor="end" stroke="#333" stroke-width="0">0.13</text>
<text transform="translate(602.30,325.39) scale(0.92,1)" font-family='"Liberation Sans", sans-serif' font-size="7.6" fill="#333" text-anchor="end" stroke="#333" stroke-width="0">0.09</text>
<text transform="translate(527.90,335.99) scale(0.9,1)" font-family='"Liberation Sans", sans-serif' font-size="7.6" fill="#1a1a1a" font-weight="bold" text-anchor="start" stroke="#1a1a1a" stroke-width="0">Ca</text>
<text transform="translate(577.60,335.99) scale(0.92,1)" font-family='"Liberation Sans", sans-serif' font-size="7.6" fill="#333" text-anchor="end" stroke="#333" stroke-width="0">27.77</text>
<text transform="translate(602.30,335.99) scale(0.92,1)" font-family='"Liberation Sans", sans-serif' font-size="7.6" fill="#333" text-anchor="end" stroke="#333" stroke-width="0">12.52</text>
<text transform="translate(527.90,346.54) scale(0.9,1)" font-family='"Liberation Sans", sans-serif' font-size="7.6" fill="#1a1a1a" font-weight="bold" text-anchor="start" stroke="#1a1a1a" stroke-width="0">Cu</text>
<text transform="translate(577.60,346.54) scale(0.92,1)" font-family='"Liberation Sans", sans-serif' font-size="7.6" fill="#333" text-anchor="end" stroke="#333" stroke-width="0">1.14</text>
<text transform="translate(602.30,346.54) scale(0.92,1)" font-family='"Liberation Sans", sans-serif' font-size="7.6" fill="#333" text-anchor="end" stroke="#333" stroke-width="0">0.33</text>
<text transform="translate(527.90,357.09) scale(0.9,1)" font-family='"Liberation Sans", sans-serif' font-size="7.6" fill="#1a1a1a" font-weight="bold" text-anchor="start" stroke="#1a1a1a" stroke-width="0">Zn</text>
<text transform="translate(577.60,357.09) scale(0.92,1)" font-family='"Liberation Sans", sans-serif' font-size="7.6" fill="#333" text-anchor="end" stroke="#333" stroke-width="0">0.74</text>
<text transform="translate(602.30,357.09) scale(0.92,1)" font-family='"Liberation Sans", sans-serif' font-size="7.6" fill="#333" text-anchor="end" stroke="#333" stroke-width="0">0.2</text>
<text transform="translate(527.90,367.54) scale(0.9,1)" font-family='"Liberation Sans", sans-serif' font-size="7.6" fill="#1a1a1a" font-weight="bold" text-anchor="start" stroke="#1a1a1a" stroke-width="0">Total</text>
<text transform="translate(577.60,367.54) scale(0.92,1)" font-family='"Liberation Sans", sans-serif' font-size="7.6" fill="#333" text-anchor="end" stroke="#333" stroke-width="0">100</text>
<text transform="translate(602.30,367.54) scale(0.92,1)" font-family='"Liberation Sans", sans-serif' font-size="7.6" fill="#333" text-anchor="end" stroke="#333" stroke-width="0">100</text>
<text x="461.30" y="504.00" font-family='"Liberation Serif", serif' font-size="20" fill="#111" text-anchor="middle" >(d)</text>
<rect x="165.50" y="511.60" width="286.80" height="220.60" stroke="#5a5a5a" stroke-width="1.1" fill="none"/>
<line x1="228.75" y1="520.60" x2="228.75" y2="712.00" stroke="#9a9a9a" stroke-width="1.1"/>
<line x1="262.43" y1="520.60" x2="262.43" y2="712.00" stroke="#9a9a9a" stroke-width="1.1"/>
<line x1="296.11" y1="520.60" x2="296.11" y2="712.00" stroke="#9a9a9a" stroke-width="1.1"/>
<line x1="329.79" y1="520.60" x2="329.79" y2="712.00" stroke="#9a9a9a" stroke-width="1.1"/>
<line x1="363.47" y1="520.60" x2="363.47" y2="712.00" stroke="#9a9a9a" stroke-width="1.1"/>
<line x1="397.15" y1="520.60" x2="397.15" y2="712.00" stroke="#9a9a9a" stroke-width="1.1"/>
<line x1="430.83" y1="520.60" x2="430.83" y2="712.00" stroke="#9a9a9a" stroke-width="1.1"/>
<line x1="195.10" y1="689.98" x2="447.20" y2="689.98" stroke="#9a9a9a" stroke-width="1.1"/>
<line x1="192.60" y1="689.98" x2="195.10" y2="689.98" stroke="#444" stroke-width="1.0"/>
<line x1="195.10" y1="669.16" x2="447.20" y2="669.16" stroke="#9a9a9a" stroke-width="1.1"/>
<line x1="192.60" y1="669.16" x2="195.10" y2="669.16" stroke="#444" stroke-width="1.0"/>
<line x1="195.10" y1="648.34" x2="447.20" y2="648.34" stroke="#9a9a9a" stroke-width="1.1"/>
<line x1="192.60" y1="648.34" x2="195.10" y2="648.34" stroke="#444" stroke-width="1.0"/>
<line x1="195.10" y1="627.52" x2="447.20" y2="627.52" stroke="#9a9a9a" stroke-width="1.1"/>
<line x1="192.60" y1="627.52" x2="195.10" y2="627.52" stroke="#444" stroke-width="1.0"/>
<line x1="195.10" y1="606.70" x2="447.20" y2="606.70" stroke="#9a9a9a" stroke-width="1.1"/>
<line x1="192.60" y1="606.70" x2="195.10" y2="606.70" stroke="#444" stroke-width="1.0"/>
<line x1="195.10" y1="585.88" x2="447.20" y2="585.88" stroke="#9a9a9a" stroke-width="1.1"/>
<line x1="192.60" y1="585.88" x2="195.10" y2="585.88" stroke="#444" stroke-width="1.0"/>
<line x1="195.10" y1="565.06" x2="447.20" y2="565.06" stroke="#9a9a9a" stroke-width="1.1"/>
<line x1="192.60" y1="565.06" x2="195.10" y2="565.06" stroke="#444" stroke-width="1.0"/>
<line x1="195.10" y1="544.24" x2="447.20" y2="544.24" stroke="#9a9a9a" stroke-width="1.1"/>
<line x1="192.60" y1="544.24" x2="195.10" y2="544.24" stroke="#444" stroke-width="1.0"/>
<line x1="195.10" y1="523.42" x2="447.20" y2="523.42" stroke="#9a9a9a" stroke-width="1.1"/>
<line x1="192.60" y1="523.42" x2="195.10" y2="523.42" stroke="#444" stroke-width="1.0"/>
<line x1="192.60" y1="710.80" x2="195.10" y2="710.80" stroke="#444" stroke-width="1.0"/>
<path d="M195.1,710.8 L195.1,710.5 L195.8,710.5 L196.5,710.5 L197.2,708.7 L197.9,708.7 L198.6,708.4 L199.3,707.3 L200.0,707.0 L200.1,707.1 L200.2,707.3 L200.3,707.5 L200.4,707.7 L200.5,707.9 L200.6,708.0 L200.7,708.2 L200.8,708.4 L200.9,708.5 L201.0,708.6 L201.1,708.8 L201.2,708.8 L201.3,708.9 L201.4,709.0 L201.5,709.0 L201.6,709.0 L201.7,709.1 L201.8,709.1 L201.9,709.1 L202.0,709.1 L202.1,709.1 L202.2,708.4 L202.3,705.5 L202.4,698.7 L202.5,688.6 L202.6,678.0 L202.7,669.3 L202.8,663.1 L202.9,659.1 L203.0,656.4 L203.1,654.1 L203.2,651.3 L203.3,647.3 L203.4,641.9 L203.5,635.1 L203.6,627.4 L203.7,619.8 L203.8,613.8 L203.9,610.7 L204.0,611.0 L204.1,614.8 L204.2,621.1 L204.3,628.8 L204.4,636.5 L204.5,643.1 L204.6,648.2 L204.7,651.9 L204.8,654.6 L204.9,657.0 L205.0,659.8 L205.1,664.2 L205.2,670.8 L205.3,680.0 L205.4,690.8 L205.5,700.4 L205.6,706.5 L205.7,708.9 L205.8,709.3 L205.9,709.4 L206.0,709.4 L206.1,709.4 L206.2,709.4 L206.3,709.4 L206.4,709.4 L206.5,709.4 L206.6,709.4 L206.7,709.4 L206.8,709.4 L206.9,709.4 L207.0,709.4 L207.1,709.4 L207.2,709.4 L207.3,709.5 L207.4,709.5 L207.5,709.5 L207.6,709.5 L207.7,709.5 L207.8,709.5 L207.9,709.5 L208.0,709.5 L208.7,709.5 L209.4,709.6 L210.1,709.6 L210.8,709.6 L211.5,709.7 L212.2,709.7 L212.9,709.7 L213.0,709.6 L213.1,709.4 L213.2,709.0 L213.3,708.3 L213.4,707.2 L213.5,705.5 L213.6,703.4 L213.7,700.8 L213.8,697.9 L213.9,694.9 L214.0,692.0 L214.1,689.2 L214.2,686.7 L214.3,684.5 L214.4,682.0 L214.5,677.7 L214.6,669.8 L214.7,658.8 L214.8,647.2 L214.9,637.5 L215.0,630.4 L215.1,625.9 L215.2,623.0 L215.3,621.0 L215.4,619.0 L215.5,616.5 L215.6,613.0 L215.7,608.4 L215.8,602.7 L215.9,596.7 L216.0,591.2 L216.1,587.4 L216.2,586.0 L216.3,587.4 L216.4,591.2 L216.5,596.7 L216.6,602.7 L216.7,608.4 L216.8,613.0 L216.9,616.5 L217.0,619.1 L217.1,621.0 L217.2,623.1 L217.3,625.9 L217.4,630.5 L217.5,637.5 L217.6,647.2 L217.7,658.8 L217.8,669.8 L217.9,677.7 L218.0,682.1 L218.1,684.6 L218.2,686.8 L218.3,689.3 L218.4,692.1 L218.5,695.0 L218.6,698.1 L218.7,700.9 L218.8,703.5 L218.9,705.7 L219.0,707.4 L219.1,708.5 L219.2,709.2 L219.3,709.7 L219.4,709.8 L219.5,709.9 L219.6,710.0 L219.7,710.0 L219.8,710.0 L219.9,710.0 L220.0,710.0 L220.1,710.0 L220.2,710.0 L220.3,710.0 L221.0,710.0 L221.7,710.0 L222.4,709.9 L223.1,709.4 L223.8,708.5 L224.5,708.0 L225.2,708.8 L225.9,709.7 L226.6,710.1 L227.3,710.2 L228.0,710.2 L228.7,710.2 L229.4,710.2 L230.1,710.2 L230.8,710.2 L231.5,710.2 L232.2,710.3 L232.9,710.3 L233.6,710.3 L234.3,710.3 L235.0,710.3 L235.7,710.3 L236.4,710.3 L237.1,710.3 L237.8,710.3 L238.5,710.3 L239.2,710.4 L239.9,710.4 L240.6,710.4 L241.3,710.4 L242.0,710.4 L242.7,710.4 L243.4,710.4 L244.1,710.4 L244.8,710.4 L245.5,710.4 L246.2,710.4 L246.9,710.4 L247.6,710.4 L248.3,710.4 L249.0,710.4 L249.7,710.5 L250.4,710.5 L251.1,710.5 L251.8,710.5 L252.5,710.5 L253.2,710.5 L253.9,710.5 L254.6,710.5 L255.3,710.5 L256.0,710.5 L256.7,710.5 L257.4,710.5 L258.1,710.5 L258.8,710.5 L259.5,710.5 L260.2,710.5 L260.9,710.5 L261.6,710.5 L262.3,710.5 L263.0,710.5 L263.7,710.5 L264.4,710.5 L265.1,710.5 L265.8,710.5 L266.5,710.5 L267.2,710.5 L267.9,710.5 L268.6,710.5 L269.3,710.5 L270.0,710.5 L270.7,710.5 L271.4,710.5 L272.1,710.5 L272.8,710.5 L273.5,710.5 L274.2,710.5 L274.9,710.5 L275.6,710.5 L276.3,710.5 L277.0,710.5 L277.7,710.5 L278.4,710.5 L279.1,710.5 L279.8,710.5 L280.5,710.5 L281.2,710.5 L281.9,710.5 L282.6,710.5 L283.3,710.5 L284.0,710.5 L284.7,710.5 L285.4,710.5 L286.1,710.5 L286.8,710.5 L287.5,710.5 L288.2,710.5 L288.9,710.5 L289.6,710.5 L290.3,710.5 L291.0,710.5 L291.7,710.5 L292.4,710.5 L293.1,710.5 L293.8,710.5 L294.5,710.5 L295.2,710.5 L295.9,710.5 L296.6,710.5 L297.3,710.5 L298.0,710.5 L298.7,710.5 L299.4,710.5 L300.1,710.5 L300.8,710.5 L301.5,710.5 L302.2,710.5 L302.9,710.5 L303.6,710.5 L304.3,710.5 L305.0,710.5 L305.7,710.5 L306.4,710.5 L307.1,710.5 L307.8,710.5 L308.5,710.5 L309.2,710.5 L309.9,710.5 L310.6,710.5 L311.3,710.5 L312.0,710.5 L312.7,710.5 L313.4,710.5 L314.1,710.5 L314.8,710.5 L315.5,710.5 L316.2,710.5 L316.9,710.5 L317.6,710.5 L318.3,710.5 L319.0,710.5 L319.7,710.5 L320.4,710.5 L321.1,710.5 L321.8,710.5 L322.5,710.5 L323.2,710.5 L323.9,710.5 L324.6,710.5 L325.3,710.5 L326.0,710.5 L326.7,710.5 L327.4,710.5 L328.1,710.5 L328.8,710.5 L329.5,710.5 L330.2,710.5 L330.9,710.5 L331.6,710.5 L332.3,710.5 L333.0,710.5 L333.7,710.5 L334.4,710.5 L335.1,710.5 L335.8,710.5 L336.5,710.5 L337.2,710.5 L337.9,710.5 L338.6,710.5 L339.3,710.5 L340.0,710.5 L340.7,710.5 L341.4,710.5 L342.1,710.5 L342.8,710.5 L343.5,710.5 L344.2,710.5 L344.9,710.5 L345.6,710.5 L346.3,710.5 L347.0,710.5 L347.7,710.5 L348.4,710.5 L349.1,710.5 L349.8,710.5 L350.5,710.5 L351.2,710.5 L351.9,710.5 L352.6,710.5 L353.3,710.5 L354.0,710.5 L354.7,710.5 L355.4,710.5 L356.1,710.5 L356.8,710.5 L357.5,710.5 L358.2,710.5 L358.9,710.5 L359.6,710.5 L360.3,710.5 L361.0,710.5 L361.7,710.5 L362.4,710.5 L363.1,710.5 L363.8,710.5 L364.5,710.5 L365.2,710.5 L365.9,710.5 L366.6,710.5 L367.3,710.5 L368.0,710.5 L368.7,710.5 L369.4,710.5 L370.1,710.5 L370.8,710.5 L371.5,710.5 L372.2,710.5 L372.9,710.5 L373.6,710.5 L374.3,710.5 L375.0,710.5 L375.7,710.5 L376.4,710.5 L377.1,710.5 L377.8,710.5 L378.5,710.5 L379.2,710.5 L379.9,710.5 L380.6,710.5 L381.3,710.5 L382.0,710.5 L382.7,710.5 L383.4,710.5 L384.1,710.5 L384.8,710.5 L385.5,710.5 L386.2,710.5 L386.9,710.5 L387.6,710.5 L388.3,710.5 L389.0,710.5 L389.7,710.5 L390.4,710.5 L391.1,710.5 L391.8,710.5 L392.5,710.5 L393.2,710.5 L393.9,710.5 L394.6,710.5 L395.3,710.5 L396.0,710.5 L396.7,710.5 L397.4,710.5 L398.1,710.5 L398.8,710.5 L399.5,710.5 L400.2,710.5 L400.9,710.5 L401.6,710.5 L402.3,710.5 L403.0,710.5 L403.7,710.5 L404.4,710.5 L405.1,710.5 L405.8,710.5 L406.5,710.5 L407.2,710.5 L407.9,710.5 L408.6,710.5 L409.3,710.5 L410.0,710.5 L410.7,710.5 L411.4,710.5 L412.1,710.5 L412.8,710.5 L413.5,710.5 L414.2,710.5 L414.9,710.5 L415.6,710.5 L416.3,710.5 L417.0,710.5 L417.7,710.5 L418.4,710.5 L419.1,710.5 L419.8,710.5 L420.5,710.5 L421.2,710.5 L421.9,710.5 L422.6,710.5 L423.3,710.5 L424.0,710.5 L424.7,710.5 L425.4,710.5 L426.1,710.5 L426.8,710.5 L427.5,710.5 L428.2,710.5 L428.9,710.5 L429.6,710.5 L430.3,710.5 L431.0,710.5 L431.7,710.5 L432.4,710.5 L433.1,710.5 L433.8,710.5 L434.5,710.5 L435.2,710.5 L435.9,710.5 L436.6,710.5 L437.3,710.5 L438.0,710.5 L438.7,710.5 L439.4,710.5 L440.1,710.5 L440.8,710.5 L441.5,710.5 L442.2,710.5 L442.9,710.5 L443.6,710.5 L444.3,710.5 L445.0,710.5 L445.7,710.5 L446.4,710.5 L447.1,710.5 L447.1,710.8 Z" fill="#E98A1F" stroke="#E98A1F" stroke-width="0.4"/>
<line x1="199.70" y1="689.30" x2="199.70" y2="704.40" stroke="#444" stroke-width="1.0"/>
<line x1="203.80" y1="597.50" x2="203.80" y2="612.00" stroke="#444" stroke-width="1.0"/>
<line x1="216.30" y1="568.40" x2="216.30" y2="584.60" stroke="#444" stroke-width="1.0"/>
<line x1="224.60" y1="689.30" x2="224.60" y2="704.40" stroke="#444" stroke-width="1.0"/>
<text x="215.50" y="561.90" font-family='"Liberation Sans", sans-serif' font-size="6.4" fill="#222" text-anchor="middle" >Mg</text>
<text x="203.40" y="591.70" font-family='"Liberation Sans", sans-serif' font-size="6.4" fill="#222" text-anchor="middle" >O</text>
<text x="199.70" y="682.90" font-family='"Liberation Sans", sans-serif' font-size="6.4" fill="#222" text-anchor="middle" >C</text>
<text x="224.60" y="683.90" font-family='"Liberation Sans", sans-serif' font-size="6.4" fill="#222" text-anchor="middle" >Si</text>
<line x1="195.10" y1="520.60" x2="447.20" y2="520.60" stroke="#444" stroke-width="1.4"/>
<line x1="195.10" y1="520.60" x2="195.10" y2="710.80" stroke="#6a6a6a" stroke-width="1.5"/>
<line x1="447.20" y1="520.60" x2="447.20" y2="710.80" stroke="#666" stroke-width="1.2"/>
<line x1="195.10" y1="710.60" x2="447.20" y2="710.60" stroke="#cdb47e" stroke-width="1.2"/>
<text x="195.40" y="518.40" font-family='"Liberation Sans", sans-serif' font-size="6.2" fill="#222" text-anchor="start" >001</text>
<text x="189.20" y="528.80" font-family='"Liberation Serif", serif' font-size="8.3" fill="#1c2b4a" font-weight="bold" text-anchor="end" >18</text>
<text x="189.20" y="549.20" font-family='"Liberation Serif", serif' font-size="8.3" fill="#1c2b4a" font-weight="bold" text-anchor="end" >16</text>
<text x="189.20" y="569.40" font-family='"Liberation Serif", serif' font-size="8.3" fill="#1c2b4a" font-weight="bold" text-anchor="end" >14</text>
<text x="189.20" y="589.80" font-family='"Liberation Serif", serif' font-size="8.3" fill="#1c2b4a" font-weight="bold" text-anchor="end" >12</text>
<text x="189.20" y="610.20" font-family='"Liberation Serif", serif' font-size="8.3" fill="#1c2b4a" font-weight="bold" text-anchor="end" >10</text>
<text x="184.40" y="631.40" font-family='"Liberation Sans", sans-serif' font-size="7.2" fill="#444" text-anchor="end" >8</text>
<text x="184.40" y="652.00" font-family='"Liberation Sans", sans-serif' font-size="7.2" fill="#444" text-anchor="end" >6</text>
<text x="184.40" y="672.60" font-family='"Liberation Sans", sans-serif' font-size="7.2" fill="#444" text-anchor="end" >4</text>
<text x="184.40" y="693.00" font-family='"Liberation Sans", sans-serif' font-size="7.2" fill="#444" text-anchor="end" >2</text>
<text x="184.40" y="713.00" font-family='"Liberation Sans", sans-serif' font-size="7.2" fill="#444" text-anchor="end" >0</text>
<text x="197.90" y="722.50" font-family='"Liberation Serif", serif' font-size="10.5" fill="#222" text-anchor="middle" stroke="#222" stroke-width="0.15">0.00</text>
<text x="231.40" y="722.50" font-family='"Liberation Serif", serif' font-size="10.5" fill="#222" text-anchor="middle" stroke="#222" stroke-width="0.15">2.00</text>
<text x="265.10" y="722.50" font-family='"Liberation Serif", serif' font-size="10.5" fill="#222" text-anchor="middle" stroke="#222" stroke-width="0.15">4.00</text>
<text x="296.20" y="722.50" font-family='"Liberation Serif", serif' font-size="10.5" fill="#222" text-anchor="middle" stroke="#222" stroke-width="0.15">6.00</text>
<text x="329.60" y="722.50" font-family='"Liberation Serif", serif' font-size="10.5" fill="#222" text-anchor="middle" stroke="#222" stroke-width="0.15">8.00</text>
<text x="363.90" y="722.50" font-family='"Liberation Serif", serif' font-size="10.5" fill="#222" text-anchor="middle" stroke="#222" stroke-width="0.15">10.00</text>
<text x="401.00" y="722.50" font-family='"Liberation Serif", serif' font-size="10.5" fill="#222" text-anchor="middle" stroke="#222" stroke-width="0.15">12.00</text>
<text x="434.80" y="722.50" font-family='"Liberation Serif", serif' font-size="10.5" fill="#222" text-anchor="middle" stroke="#222" stroke-width="0.15">14.00</text>
<text x="319.30" y="731.00" font-family='"Liberation Serif", serif' font-size="8.8" fill="#333" text-anchor="middle" >keV</text>
<text transform="translate(174.90,618.70) rotate(-90)" font-family='"Liberation Serif", serif' font-size="11.3" fill="#222" stroke="#222" stroke-width="0.08" text-anchor="middle"><tspan letter-spacing="0.5">Counts</tspan><tspan letter-spacing="-0.3"> [1 × 10</tspan><tspan font-size="7" dx="0.6" dy="-4.3">3</tspan><tspan dy="4.3">]</tspan></text>
<rect x="327.2" y="522" width="119.30000000000001" height="83.79999999999995" fill="#fff"/>
<line x1="369.50" y1="522.00" x2="369.50" y2="605.80" stroke="#424242" stroke-width="1.3"/>
<line x1="407.10" y1="522.00" x2="407.10" y2="605.80" stroke="#424242" stroke-width="1.3"/>
<line x1="327.20" y1="536.30" x2="446.50" y2="536.30" stroke="#424242" stroke-width="1.3"/>
<line x1="327.20" y1="549.80" x2="446.50" y2="549.80" stroke="#424242" stroke-width="1.3"/>
<line x1="327.20" y1="563.80" x2="446.50" y2="563.80" stroke="#424242" stroke-width="1.3"/>
<line x1="327.20" y1="577.80" x2="446.50" y2="577.80" stroke="#424242" stroke-width="1.3"/>
<line x1="327.20" y1="591.50" x2="446.50" y2="591.50" stroke="#424242" stroke-width="1.3"/>
<rect x="327.20" y="522.00" width="119.30" height="83.80" stroke="#404040" stroke-width="1.65" fill="none"/>
<text transform="translate(348.35,533.56) scale(0.94,1)" font-family='"Liberation Sans", sans-serif' font-size="9.2" fill="#1a1a1a" font-weight="bold" text-anchor="middle" stroke="#1a1a1a" stroke-width="0.15">Element</text>
<text transform="translate(388.30,533.56) scale(0.94,1)" font-family='"Liberation Sans", sans-serif' font-size="9.2" fill="#1a1a1a" font-weight="bold" text-anchor="middle" stroke="#1a1a1a" stroke-width="0.15">wt%</text>
<text transform="translate(426.80,533.56) scale(0.94,1)" font-family='"Liberation Sans", sans-serif' font-size="9.2" fill="#1a1a1a" font-weight="bold" text-anchor="middle" stroke="#1a1a1a" stroke-width="0.15">Atom%</text>
<text transform="translate(329.20,547.55) scale(0.8,1)" font-family='"Liberation Sans", sans-serif' font-size="10" fill="#1a1a1a" font-weight="bold" text-anchor="start" stroke="#1a1a1a" stroke-width="0.22">C</text>
<text transform="translate(405.50,547.01) scale(0.76,1)" font-family='"Liberation Sans", sans-serif' font-size="10.3" fill="#333" text-anchor="end" stroke="#333" stroke-width="0.12">1.16</text>
<text transform="translate(444.90,547.01) scale(0.76,1)" font-family='"Liberation Sans", sans-serif' font-size="10.3" fill="#333" text-anchor="end" stroke="#333" stroke-width="0.12">9.1</text>
<text transform="translate(329.20,561.30) scale(0.8,1)" font-family='"Liberation Sans", sans-serif' font-size="10" fill="#1a1a1a" font-weight="bold" text-anchor="start" stroke="#1a1a1a" stroke-width="0.22">O</text>
<text transform="translate(405.50,560.76) scale(0.76,1)" font-family='"Liberation Sans", sans-serif' font-size="10.3" fill="#333" text-anchor="end" stroke="#333" stroke-width="0.12">18.03</text>
<text transform="translate(444.90,560.76) scale(0.76,1)" font-family='"Liberation Sans", sans-serif' font-size="10.3" fill="#333" text-anchor="end" stroke="#333" stroke-width="0.12">22.33</text>
<text transform="translate(329.20,575.30) scale(0.8,1)" font-family='"Liberation Sans", sans-serif' font-size="10" fill="#1a1a1a" font-weight="bold" text-anchor="start" stroke="#1a1a1a" stroke-width="0.22">Mg</text>
<text transform="translate(405.50,574.76) scale(0.76,1)" font-family='"Liberation Sans", sans-serif' font-size="10.3" fill="#333" text-anchor="end" stroke="#333" stroke-width="0.12">80.5</text>
<text transform="translate(444.90,574.76) scale(0.76,1)" font-family='"Liberation Sans", sans-serif' font-size="10.3" fill="#333" text-anchor="end" stroke="#333" stroke-width="0.12">68.36</text>
<text transform="translate(329.20,589.15) scale(0.8,1)" font-family='"Liberation Sans", sans-serif' font-size="10" fill="#1a1a1a" font-weight="bold" text-anchor="start" stroke="#1a1a1a" stroke-width="0.22">Si</text>
<text transform="translate(405.50,588.61) scale(0.76,1)" font-family='"Liberation Sans", sans-serif' font-size="10.3" fill="#333" text-anchor="end" stroke="#333" stroke-width="0.12">0.31</text>
<text transform="translate(444.90,588.61) scale(0.76,1)" font-family='"Liberation Sans", sans-serif' font-size="10.3" fill="#333" text-anchor="end" stroke="#333" stroke-width="0.12">0.21</text>
<text transform="translate(329.20,603.15) scale(0.8,1)" font-family='"Liberation Sans", sans-serif' font-size="10" fill="#1a1a1a" font-weight="bold" text-anchor="start" stroke="#1a1a1a" stroke-width="0.22">Total</text>
<text transform="translate(405.50,602.61) scale(0.76,1)" font-family='"Liberation Sans", sans-serif' font-size="10.3" fill="#333" text-anchor="end" stroke="#333" stroke-width="0.12">100</text>
<text transform="translate(444.90,602.61) scale(0.76,1)" font-family='"Liberation Sans", sans-serif' font-size="10.3" fill="#333" text-anchor="end" stroke="#333" stroke-width="0.12">100</text>
<text x="309.10" y="752.30" font-family='"Liberation Serif", serif' font-size="20" fill="#111" text-anchor="middle" >(e)</text>
</svg></body></html>
